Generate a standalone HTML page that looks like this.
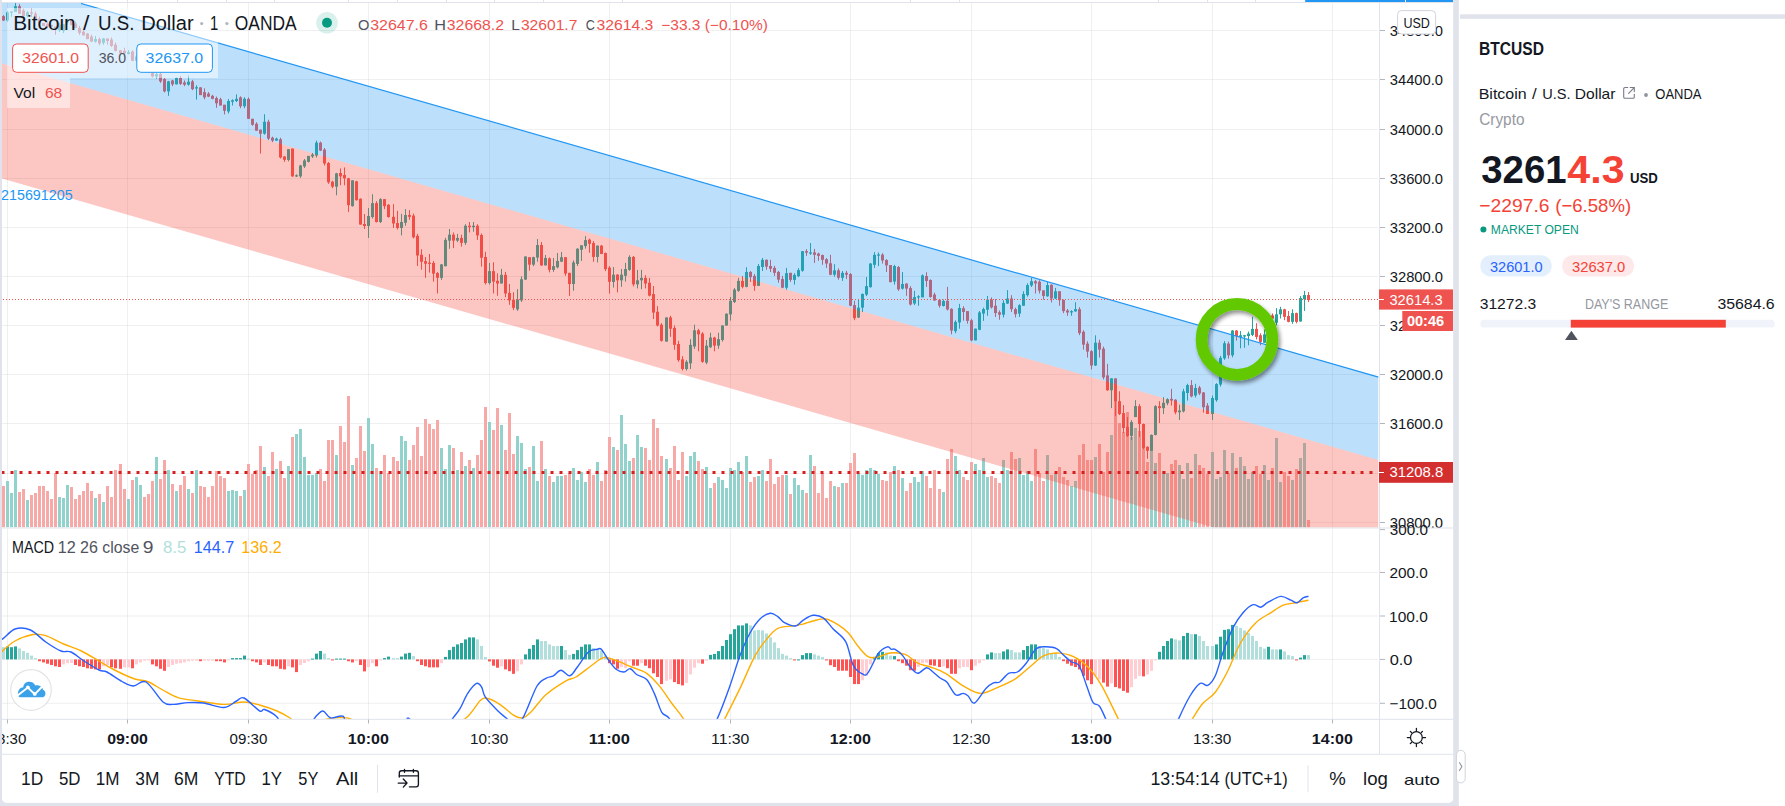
<!DOCTYPE html>
<html><head><meta charset="utf-8"><title>BTCUSD chart</title>
<style>
html,body{margin:0;padding:0;background:#ffffff;overflow:hidden;}
svg{display:block;}
text{font-family:"Liberation Sans", sans-serif;}
</style></head>
<body>
<svg width="1785" height="806" viewBox="0 0 1785 806">
<rect x="0" y="0" width="1785" height="806" fill="#ffffff"/>
<defs><clipPath id="cp"><rect x="2" y="3" width="1376.5" height="524.5"/></clipPath><clipPath id="cm"><rect x="2" y="528.5" width="1376.5" height="190.5"/></clipPath><filter id="sh" x="-30%" y="-30%" width="160%" height="160%"><feGaussianBlur in="SourceAlpha" stdDeviation="2"/><feOffset dx="2" dy="3"/><feComponentTransfer><feFuncA type="linear" slope="0.45"/></feComponentTransfer><feMerge><feMergeNode/><feMergeNode in="SourceGraphic"/></feMerge></filter></defs>
<g clip-path="url(#cp)">
<rect x="7" y="0" width="1" height="527.5" fill="rgba(42,46,57,0.07)"/>
<rect x="127" y="0" width="1" height="527.5" fill="rgba(42,46,57,0.07)"/>
<rect x="248" y="0" width="1" height="527.5" fill="rgba(42,46,57,0.07)"/>
<rect x="368" y="0" width="1" height="527.5" fill="rgba(42,46,57,0.07)"/>
<rect x="489" y="0" width="1" height="527.5" fill="rgba(42,46,57,0.07)"/>
<rect x="609" y="0" width="1" height="527.5" fill="rgba(42,46,57,0.07)"/>
<rect x="730" y="0" width="1" height="527.5" fill="rgba(42,46,57,0.07)"/>
<rect x="850" y="0" width="1" height="527.5" fill="rgba(42,46,57,0.07)"/>
<rect x="971" y="0" width="1" height="527.5" fill="rgba(42,46,57,0.07)"/>
<rect x="1091" y="0" width="1" height="527.5" fill="rgba(42,46,57,0.07)"/>
<rect x="1212" y="0" width="1" height="527.5" fill="rgba(42,46,57,0.07)"/>
<rect x="1332" y="0" width="1" height="527.5" fill="rgba(42,46,57,0.07)"/>
<rect x="0" y="30" width="1378.5" height="1" fill="rgba(42,46,57,0.07)"/>
<rect x="0" y="79" width="1378.5" height="1" fill="rgba(42,46,57,0.07)"/>
<rect x="0" y="129" width="1378.5" height="1" fill="rgba(42,46,57,0.07)"/>
<rect x="0" y="178" width="1378.5" height="1" fill="rgba(42,46,57,0.07)"/>
<rect x="0" y="227" width="1378.5" height="1" fill="rgba(42,46,57,0.07)"/>
<rect x="0" y="276" width="1378.5" height="1" fill="rgba(42,46,57,0.07)"/>
<rect x="0" y="325" width="1378.5" height="1" fill="rgba(42,46,57,0.07)"/>
<rect x="0" y="374" width="1378.5" height="1" fill="rgba(42,46,57,0.07)"/>
<rect x="0" y="423" width="1378.5" height="1" fill="rgba(42,46,57,0.07)"/>
<rect x="0" y="473" width="1378.5" height="1" fill="rgba(42,46,57,0.07)"/>
<rect x="0" y="522" width="1378.5" height="1" fill="rgba(42,46,57,0.07)"/>
<rect x="2" y="486" width="3" height="41.5" fill="#f7a9a7"/>
<rect x="6" y="481" width="3" height="46.5" fill="#92d2cc"/>
<rect x="10" y="493" width="3" height="34.5" fill="#92d2cc"/>
<rect x="14" y="470" width="3" height="57.5" fill="#92d2cc"/>
<rect x="18" y="492" width="3" height="35.5" fill="#f7a9a7"/>
<rect x="22" y="489" width="3" height="38.5" fill="#f7a9a7"/>
<rect x="26" y="500" width="3" height="27.5" fill="#92d2cc"/>
<rect x="30" y="495" width="3" height="32.5" fill="#f7a9a7"/>
<rect x="34" y="493" width="3" height="34.5" fill="#f7a9a7"/>
<rect x="38" y="486" width="3" height="41.5" fill="#f7a9a7"/>
<rect x="42" y="486" width="3" height="41.5" fill="#f7a9a7"/>
<rect x="46" y="491" width="3" height="36.5" fill="#f7a9a7"/>
<rect x="50" y="499" width="3" height="28.5" fill="#f7a9a7"/>
<rect x="54" y="473" width="3" height="54.5" fill="#f7a9a7"/>
<rect x="58" y="497" width="3" height="30.5" fill="#92d2cc"/>
<rect x="62" y="498" width="3" height="29.5" fill="#92d2cc"/>
<rect x="66" y="485" width="3" height="42.5" fill="#92d2cc"/>
<rect x="70" y="487" width="3" height="40.5" fill="#f7a9a7"/>
<rect x="74" y="499" width="3" height="28.5" fill="#f7a9a7"/>
<rect x="78" y="495" width="3" height="32.5" fill="#f7a9a7"/>
<rect x="82" y="491" width="3" height="36.5" fill="#f7a9a7"/>
<rect x="86" y="483" width="3" height="44.5" fill="#f7a9a7"/>
<rect x="90" y="491" width="3" height="36.5" fill="#f7a9a7"/>
<rect x="94" y="498" width="3" height="29.5" fill="#92d2cc"/>
<rect x="98" y="494" width="3" height="33.5" fill="#f7a9a7"/>
<rect x="102" y="502" width="3" height="25.5" fill="#92d2cc"/>
<rect x="106" y="486" width="3" height="41.5" fill="#f7a9a7"/>
<rect x="110" y="497" width="3" height="30.5" fill="#f7a9a7"/>
<rect x="114" y="470" width="3" height="57.5" fill="#f7a9a7"/>
<rect x="119" y="464" width="3" height="63.5" fill="#f7a9a7"/>
<rect x="123" y="489" width="3" height="38.5" fill="#f7a9a7"/>
<rect x="127" y="499" width="3" height="28.5" fill="#92d2cc"/>
<rect x="131" y="480" width="3" height="47.5" fill="#f7a9a7"/>
<rect x="135" y="477" width="3" height="50.5" fill="#92d2cc"/>
<rect x="139" y="485" width="3" height="42.5" fill="#92d2cc"/>
<rect x="143" y="497" width="3" height="30.5" fill="#f7a9a7"/>
<rect x="147" y="494" width="3" height="33.5" fill="#f7a9a7"/>
<rect x="151" y="481" width="3" height="46.5" fill="#f7a9a7"/>
<rect x="155" y="457" width="3" height="70.5" fill="#92d2cc"/>
<rect x="159" y="479" width="3" height="48.5" fill="#f7a9a7"/>
<rect x="163" y="460" width="3" height="67.5" fill="#f7a9a7"/>
<rect x="167" y="470" width="3" height="57.5" fill="#92d2cc"/>
<rect x="171" y="484" width="3" height="43.5" fill="#f7a9a7"/>
<rect x="175" y="491" width="3" height="36.5" fill="#92d2cc"/>
<rect x="179" y="485" width="3" height="42.5" fill="#f7a9a7"/>
<rect x="183" y="476" width="3" height="51.5" fill="#f7a9a7"/>
<rect x="187" y="489" width="3" height="38.5" fill="#92d2cc"/>
<rect x="191" y="493" width="3" height="34.5" fill="#f7a9a7"/>
<rect x="195" y="470" width="3" height="57.5" fill="#92d2cc"/>
<rect x="199" y="486" width="3" height="41.5" fill="#f7a9a7"/>
<rect x="203" y="487" width="3" height="40.5" fill="#f7a9a7"/>
<rect x="207" y="497" width="3" height="30.5" fill="#f7a9a7"/>
<rect x="211" y="486" width="3" height="41.5" fill="#f7a9a7"/>
<rect x="215" y="471" width="3" height="56.5" fill="#f7a9a7"/>
<rect x="219" y="476" width="3" height="51.5" fill="#f7a9a7"/>
<rect x="223" y="478" width="3" height="49.5" fill="#f7a9a7"/>
<rect x="227" y="491" width="3" height="36.5" fill="#92d2cc"/>
<rect x="231" y="490" width="3" height="37.5" fill="#92d2cc"/>
<rect x="235" y="491" width="3" height="36.5" fill="#92d2cc"/>
<rect x="239" y="496" width="3" height="31.5" fill="#f7a9a7"/>
<rect x="243" y="490" width="3" height="37.5" fill="#92d2cc"/>
<rect x="247" y="464" width="3" height="63.5" fill="#f7a9a7"/>
<rect x="251" y="474" width="3" height="53.5" fill="#f7a9a7"/>
<rect x="255" y="470" width="3" height="57.5" fill="#f7a9a7"/>
<rect x="259" y="446" width="3" height="81.5" fill="#f7a9a7"/>
<rect x="263" y="467" width="3" height="60.5" fill="#92d2cc"/>
<rect x="267" y="476" width="3" height="51.5" fill="#f7a9a7"/>
<rect x="271" y="452" width="3" height="75.5" fill="#f7a9a7"/>
<rect x="275" y="469" width="3" height="58.5" fill="#92d2cc"/>
<rect x="279" y="461" width="3" height="66.5" fill="#f7a9a7"/>
<rect x="283" y="478" width="3" height="49.5" fill="#f7a9a7"/>
<rect x="287" y="466" width="3" height="61.5" fill="#92d2cc"/>
<rect x="291" y="437" width="3" height="90.5" fill="#f7a9a7"/>
<rect x="295" y="434" width="3" height="93.5" fill="#92d2cc"/>
<rect x="299" y="429" width="3" height="98.5" fill="#92d2cc"/>
<rect x="303" y="457" width="3" height="70.5" fill="#92d2cc"/>
<rect x="307" y="475" width="3" height="52.5" fill="#92d2cc"/>
<rect x="311" y="475" width="3" height="52.5" fill="#92d2cc"/>
<rect x="315" y="473" width="3" height="54.5" fill="#92d2cc"/>
<rect x="319" y="469" width="3" height="58.5" fill="#f7a9a7"/>
<rect x="323" y="481" width="3" height="46.5" fill="#f7a9a7"/>
<rect x="327" y="440" width="3" height="87.5" fill="#f7a9a7"/>
<rect x="331" y="440" width="3" height="87.5" fill="#f7a9a7"/>
<rect x="335" y="455" width="3" height="72.5" fill="#92d2cc"/>
<rect x="339" y="426" width="3" height="101.5" fill="#f7a9a7"/>
<rect x="343" y="442" width="3" height="85.5" fill="#f7a9a7"/>
<rect x="347" y="396" width="3" height="131.5" fill="#f7a9a7"/>
<rect x="351" y="465" width="3" height="62.5" fill="#92d2cc"/>
<rect x="355" y="458" width="3" height="69.5" fill="#f7a9a7"/>
<rect x="359" y="426" width="3" height="101.5" fill="#f7a9a7"/>
<rect x="363" y="451" width="3" height="76.5" fill="#f7a9a7"/>
<rect x="367" y="418" width="3" height="109.5" fill="#92d2cc"/>
<rect x="371" y="444" width="3" height="83.5" fill="#92d2cc"/>
<rect x="375" y="468" width="3" height="59.5" fill="#f7a9a7"/>
<rect x="379" y="474" width="3" height="53.5" fill="#92d2cc"/>
<rect x="383" y="455" width="3" height="72.5" fill="#f7a9a7"/>
<rect x="387" y="473" width="3" height="54.5" fill="#f7a9a7"/>
<rect x="392" y="457" width="3" height="70.5" fill="#f7a9a7"/>
<rect x="396" y="461" width="3" height="66.5" fill="#f7a9a7"/>
<rect x="400" y="436" width="3" height="91.5" fill="#92d2cc"/>
<rect x="404" y="441" width="3" height="86.5" fill="#92d2cc"/>
<rect x="408" y="460" width="3" height="67.5" fill="#f7a9a7"/>
<rect x="412" y="445" width="3" height="82.5" fill="#f7a9a7"/>
<rect x="416" y="427" width="3" height="100.5" fill="#f7a9a7"/>
<rect x="420" y="456" width="3" height="71.5" fill="#f7a9a7"/>
<rect x="424" y="419" width="3" height="108.5" fill="#f7a9a7"/>
<rect x="428" y="424" width="3" height="103.5" fill="#f7a9a7"/>
<rect x="432" y="429" width="3" height="98.5" fill="#f7a9a7"/>
<rect x="436" y="420" width="3" height="107.5" fill="#f7a9a7"/>
<rect x="440" y="448" width="3" height="79.5" fill="#92d2cc"/>
<rect x="444" y="469" width="3" height="58.5" fill="#92d2cc"/>
<rect x="448" y="445" width="3" height="82.5" fill="#92d2cc"/>
<rect x="452" y="448" width="3" height="79.5" fill="#f7a9a7"/>
<rect x="456" y="470" width="3" height="57.5" fill="#92d2cc"/>
<rect x="460" y="452" width="3" height="75.5" fill="#f7a9a7"/>
<rect x="464" y="466" width="3" height="61.5" fill="#92d2cc"/>
<rect x="468" y="460" width="3" height="67.5" fill="#f7a9a7"/>
<rect x="472" y="468" width="3" height="59.5" fill="#92d2cc"/>
<rect x="476" y="455" width="3" height="72.5" fill="#f7a9a7"/>
<rect x="480" y="440" width="3" height="87.5" fill="#f7a9a7"/>
<rect x="484" y="407" width="3" height="120.5" fill="#f7a9a7"/>
<rect x="488" y="422" width="3" height="105.5" fill="#92d2cc"/>
<rect x="492" y="430" width="3" height="97.5" fill="#f7a9a7"/>
<rect x="496" y="408" width="3" height="119.5" fill="#f7a9a7"/>
<rect x="500" y="425" width="3" height="102.5" fill="#92d2cc"/>
<rect x="504" y="450" width="3" height="77.5" fill="#f7a9a7"/>
<rect x="508" y="413" width="3" height="114.5" fill="#f7a9a7"/>
<rect x="512" y="454" width="3" height="73.5" fill="#f7a9a7"/>
<rect x="516" y="436" width="3" height="91.5" fill="#92d2cc"/>
<rect x="520" y="443" width="3" height="84.5" fill="#92d2cc"/>
<rect x="524" y="469" width="3" height="58.5" fill="#92d2cc"/>
<rect x="528" y="467" width="3" height="60.5" fill="#f7a9a7"/>
<rect x="532" y="446" width="3" height="81.5" fill="#92d2cc"/>
<rect x="536" y="481" width="3" height="46.5" fill="#92d2cc"/>
<rect x="540" y="441" width="3" height="86.5" fill="#f7a9a7"/>
<rect x="544" y="469" width="3" height="58.5" fill="#92d2cc"/>
<rect x="548" y="476" width="3" height="51.5" fill="#f7a9a7"/>
<rect x="552" y="482" width="3" height="45.5" fill="#92d2cc"/>
<rect x="556" y="476" width="3" height="51.5" fill="#92d2cc"/>
<rect x="560" y="476" width="3" height="51.5" fill="#92d2cc"/>
<rect x="564" y="475" width="3" height="52.5" fill="#f7a9a7"/>
<rect x="568" y="473" width="3" height="54.5" fill="#f7a9a7"/>
<rect x="572" y="468" width="3" height="59.5" fill="#92d2cc"/>
<rect x="576" y="480" width="3" height="47.5" fill="#92d2cc"/>
<rect x="580" y="472" width="3" height="55.5" fill="#92d2cc"/>
<rect x="584" y="482" width="3" height="45.5" fill="#92d2cc"/>
<rect x="588" y="469" width="3" height="58.5" fill="#f7a9a7"/>
<rect x="592" y="475" width="3" height="52.5" fill="#f7a9a7"/>
<rect x="596" y="462" width="3" height="65.5" fill="#92d2cc"/>
<rect x="600" y="481" width="3" height="46.5" fill="#f7a9a7"/>
<rect x="604" y="470" width="3" height="57.5" fill="#f7a9a7"/>
<rect x="608" y="437" width="3" height="90.5" fill="#f7a9a7"/>
<rect x="612" y="447" width="3" height="80.5" fill="#92d2cc"/>
<rect x="616" y="450" width="3" height="77.5" fill="#f7a9a7"/>
<rect x="620" y="415" width="3" height="112.5" fill="#92d2cc"/>
<rect x="624" y="444" width="3" height="83.5" fill="#92d2cc"/>
<rect x="628" y="461" width="3" height="66.5" fill="#92d2cc"/>
<rect x="632" y="458" width="3" height="69.5" fill="#f7a9a7"/>
<rect x="636" y="435" width="3" height="92.5" fill="#92d2cc"/>
<rect x="640" y="447" width="3" height="80.5" fill="#92d2cc"/>
<rect x="644" y="448" width="3" height="79.5" fill="#f7a9a7"/>
<rect x="648" y="460" width="3" height="67.5" fill="#f7a9a7"/>
<rect x="652" y="419" width="3" height="108.5" fill="#f7a9a7"/>
<rect x="656" y="428" width="3" height="99.5" fill="#f7a9a7"/>
<rect x="660" y="456" width="3" height="71.5" fill="#f7a9a7"/>
<rect x="665" y="459" width="3" height="68.5" fill="#92d2cc"/>
<rect x="669" y="468" width="3" height="59.5" fill="#f7a9a7"/>
<rect x="673" y="446" width="3" height="81.5" fill="#f7a9a7"/>
<rect x="677" y="480" width="3" height="47.5" fill="#f7a9a7"/>
<rect x="681" y="452" width="3" height="75.5" fill="#f7a9a7"/>
<rect x="685" y="476" width="3" height="51.5" fill="#92d2cc"/>
<rect x="689" y="456" width="3" height="71.5" fill="#92d2cc"/>
<rect x="693" y="452" width="3" height="75.5" fill="#92d2cc"/>
<rect x="697" y="461" width="3" height="66.5" fill="#f7a9a7"/>
<rect x="701" y="469" width="3" height="58.5" fill="#f7a9a7"/>
<rect x="705" y="467" width="3" height="60.5" fill="#92d2cc"/>
<rect x="709" y="488" width="3" height="39.5" fill="#92d2cc"/>
<rect x="713" y="483" width="3" height="44.5" fill="#f7a9a7"/>
<rect x="717" y="477" width="3" height="50.5" fill="#92d2cc"/>
<rect x="721" y="480" width="3" height="47.5" fill="#92d2cc"/>
<rect x="725" y="488" width="3" height="39.5" fill="#92d2cc"/>
<rect x="729" y="468" width="3" height="59.5" fill="#92d2cc"/>
<rect x="733" y="470" width="3" height="57.5" fill="#92d2cc"/>
<rect x="737" y="462" width="3" height="65.5" fill="#92d2cc"/>
<rect x="741" y="472" width="3" height="55.5" fill="#f7a9a7"/>
<rect x="745" y="456" width="3" height="71.5" fill="#92d2cc"/>
<rect x="749" y="482" width="3" height="45.5" fill="#f7a9a7"/>
<rect x="753" y="477" width="3" height="50.5" fill="#f7a9a7"/>
<rect x="757" y="476" width="3" height="51.5" fill="#92d2cc"/>
<rect x="761" y="470" width="3" height="57.5" fill="#92d2cc"/>
<rect x="765" y="481" width="3" height="46.5" fill="#f7a9a7"/>
<rect x="769" y="459" width="3" height="68.5" fill="#f7a9a7"/>
<rect x="773" y="484" width="3" height="43.5" fill="#f7a9a7"/>
<rect x="777" y="477" width="3" height="50.5" fill="#f7a9a7"/>
<rect x="781" y="475" width="3" height="52.5" fill="#f7a9a7"/>
<rect x="785" y="475" width="3" height="52.5" fill="#92d2cc"/>
<rect x="789" y="494" width="3" height="33.5" fill="#f7a9a7"/>
<rect x="793" y="478" width="3" height="49.5" fill="#92d2cc"/>
<rect x="797" y="485" width="3" height="42.5" fill="#92d2cc"/>
<rect x="801" y="490" width="3" height="37.5" fill="#92d2cc"/>
<rect x="805" y="493" width="3" height="34.5" fill="#f7a9a7"/>
<rect x="809" y="455" width="3" height="72.5" fill="#92d2cc"/>
<rect x="813" y="466" width="3" height="61.5" fill="#f7a9a7"/>
<rect x="817" y="493" width="3" height="34.5" fill="#f7a9a7"/>
<rect x="821" y="473" width="3" height="54.5" fill="#f7a9a7"/>
<rect x="825" y="498" width="3" height="29.5" fill="#f7a9a7"/>
<rect x="829" y="481" width="3" height="46.5" fill="#f7a9a7"/>
<rect x="833" y="486" width="3" height="41.5" fill="#92d2cc"/>
<rect x="837" y="487" width="3" height="40.5" fill="#f7a9a7"/>
<rect x="841" y="483" width="3" height="44.5" fill="#92d2cc"/>
<rect x="845" y="483" width="3" height="44.5" fill="#f7a9a7"/>
<rect x="849" y="463" width="3" height="64.5" fill="#f7a9a7"/>
<rect x="853" y="453" width="3" height="74.5" fill="#f7a9a7"/>
<rect x="857" y="473" width="3" height="54.5" fill="#92d2cc"/>
<rect x="861" y="475" width="3" height="52.5" fill="#92d2cc"/>
<rect x="865" y="470" width="3" height="57.5" fill="#92d2cc"/>
<rect x="869" y="468" width="3" height="59.5" fill="#92d2cc"/>
<rect x="873" y="470" width="3" height="57.5" fill="#92d2cc"/>
<rect x="877" y="474" width="3" height="53.5" fill="#92d2cc"/>
<rect x="881" y="480" width="3" height="47.5" fill="#f7a9a7"/>
<rect x="885" y="481" width="3" height="46.5" fill="#f7a9a7"/>
<rect x="889" y="472" width="3" height="55.5" fill="#f7a9a7"/>
<rect x="893" y="466" width="3" height="61.5" fill="#92d2cc"/>
<rect x="897" y="470" width="3" height="57.5" fill="#f7a9a7"/>
<rect x="901" y="478" width="3" height="49.5" fill="#92d2cc"/>
<rect x="905" y="491" width="3" height="36.5" fill="#f7a9a7"/>
<rect x="909" y="483" width="3" height="44.5" fill="#f7a9a7"/>
<rect x="913" y="477" width="3" height="50.5" fill="#92d2cc"/>
<rect x="917" y="482" width="3" height="45.5" fill="#92d2cc"/>
<rect x="921" y="471" width="3" height="56.5" fill="#92d2cc"/>
<rect x="925" y="476" width="3" height="51.5" fill="#f7a9a7"/>
<rect x="929" y="488" width="3" height="39.5" fill="#f7a9a7"/>
<rect x="933" y="470" width="3" height="57.5" fill="#f7a9a7"/>
<rect x="938" y="489" width="3" height="38.5" fill="#f7a9a7"/>
<rect x="942" y="492" width="3" height="35.5" fill="#92d2cc"/>
<rect x="946" y="459" width="3" height="68.5" fill="#f7a9a7"/>
<rect x="950" y="449" width="3" height="78.5" fill="#f7a9a7"/>
<rect x="954" y="456" width="3" height="71.5" fill="#92d2cc"/>
<rect x="958" y="470" width="3" height="57.5" fill="#92d2cc"/>
<rect x="962" y="477" width="3" height="50.5" fill="#f7a9a7"/>
<rect x="966" y="480" width="3" height="47.5" fill="#f7a9a7"/>
<rect x="970" y="462" width="3" height="65.5" fill="#f7a9a7"/>
<rect x="974" y="464" width="3" height="63.5" fill="#92d2cc"/>
<rect x="978" y="470" width="3" height="57.5" fill="#92d2cc"/>
<rect x="982" y="458" width="3" height="69.5" fill="#92d2cc"/>
<rect x="986" y="477" width="3" height="50.5" fill="#92d2cc"/>
<rect x="990" y="476" width="3" height="51.5" fill="#f7a9a7"/>
<rect x="994" y="478" width="3" height="49.5" fill="#f7a9a7"/>
<rect x="998" y="483" width="3" height="44.5" fill="#f7a9a7"/>
<rect x="1002" y="460" width="3" height="67.5" fill="#92d2cc"/>
<rect x="1006" y="470" width="3" height="57.5" fill="#92d2cc"/>
<rect x="1010" y="452" width="3" height="75.5" fill="#f7a9a7"/>
<rect x="1014" y="459" width="3" height="68.5" fill="#f7a9a7"/>
<rect x="1018" y="458" width="3" height="69.5" fill="#92d2cc"/>
<rect x="1022" y="475" width="3" height="52.5" fill="#92d2cc"/>
<rect x="1026" y="471" width="3" height="56.5" fill="#92d2cc"/>
<rect x="1030" y="481" width="3" height="46.5" fill="#92d2cc"/>
<rect x="1034" y="449" width="3" height="78.5" fill="#f7a9a7"/>
<rect x="1038" y="473" width="3" height="54.5" fill="#f7a9a7"/>
<rect x="1042" y="481" width="3" height="46.5" fill="#f7a9a7"/>
<rect x="1046" y="455" width="3" height="72.5" fill="#92d2cc"/>
<rect x="1050" y="475" width="3" height="52.5" fill="#f7a9a7"/>
<rect x="1054" y="474" width="3" height="53.5" fill="#92d2cc"/>
<rect x="1058" y="467" width="3" height="60.5" fill="#f7a9a7"/>
<rect x="1062" y="477" width="3" height="50.5" fill="#f7a9a7"/>
<rect x="1066" y="480" width="3" height="47.5" fill="#f7a9a7"/>
<rect x="1070" y="486" width="3" height="41.5" fill="#92d2cc"/>
<rect x="1074" y="481" width="3" height="46.5" fill="#92d2cc"/>
<rect x="1078" y="455" width="3" height="72.5" fill="#f7a9a7"/>
<rect x="1082" y="444" width="3" height="83.5" fill="#f7a9a7"/>
<rect x="1086" y="460" width="3" height="67.5" fill="#f7a9a7"/>
<rect x="1090" y="460" width="3" height="67.5" fill="#f7a9a7"/>
<rect x="1094" y="457" width="3" height="70.5" fill="#92d2cc"/>
<rect x="1098" y="444" width="3" height="83.5" fill="#f7a9a7"/>
<rect x="1102" y="472" width="3" height="55.5" fill="#f7a9a7"/>
<rect x="1106" y="452" width="3" height="75.5" fill="#f7a9a7"/>
<rect x="1110" y="435" width="3" height="92.5" fill="#92d2cc"/>
<rect x="1114" y="398" width="3" height="129.5" fill="#f7a9a7"/>
<rect x="1118" y="423" width="3" height="104.5" fill="#f7a9a7"/>
<rect x="1122" y="432" width="3" height="95.5" fill="#f7a9a7"/>
<rect x="1126" y="412" width="3" height="115.5" fill="#f7a9a7"/>
<rect x="1130" y="437" width="3" height="90.5" fill="#92d2cc"/>
<rect x="1134" y="428" width="3" height="99.5" fill="#92d2cc"/>
<rect x="1138" y="431" width="3" height="96.5" fill="#f7a9a7"/>
<rect x="1142" y="444" width="3" height="83.5" fill="#f7a9a7"/>
<rect x="1146" y="462" width="3" height="65.5" fill="#f7a9a7"/>
<rect x="1150" y="435" width="3" height="92.5" fill="#92d2cc"/>
<rect x="1154" y="463" width="3" height="64.5" fill="#92d2cc"/>
<rect x="1158" y="453" width="3" height="74.5" fill="#f7a9a7"/>
<rect x="1162" y="471" width="3" height="56.5" fill="#92d2cc"/>
<rect x="1166" y="473" width="3" height="54.5" fill="#92d2cc"/>
<rect x="1170" y="464" width="3" height="63.5" fill="#f7a9a7"/>
<rect x="1174" y="460" width="3" height="67.5" fill="#f7a9a7"/>
<rect x="1178" y="465" width="3" height="62.5" fill="#92d2cc"/>
<rect x="1182" y="479" width="3" height="48.5" fill="#92d2cc"/>
<rect x="1186" y="463" width="3" height="64.5" fill="#92d2cc"/>
<rect x="1190" y="478" width="3" height="49.5" fill="#f7a9a7"/>
<rect x="1194" y="454" width="3" height="73.5" fill="#92d2cc"/>
<rect x="1198" y="465" width="3" height="62.5" fill="#f7a9a7"/>
<rect x="1202" y="468" width="3" height="59.5" fill="#f7a9a7"/>
<rect x="1206" y="474" width="3" height="53.5" fill="#f7a9a7"/>
<rect x="1211" y="452" width="3" height="75.5" fill="#92d2cc"/>
<rect x="1215" y="479" width="3" height="48.5" fill="#92d2cc"/>
<rect x="1219" y="477" width="3" height="50.5" fill="#92d2cc"/>
<rect x="1223" y="450" width="3" height="77.5" fill="#92d2cc"/>
<rect x="1227" y="473" width="3" height="54.5" fill="#f7a9a7"/>
<rect x="1231" y="453" width="3" height="74.5" fill="#92d2cc"/>
<rect x="1235" y="468" width="3" height="59.5" fill="#f7a9a7"/>
<rect x="1239" y="457" width="3" height="70.5" fill="#92d2cc"/>
<rect x="1243" y="466" width="3" height="61.5" fill="#92d2cc"/>
<rect x="1247" y="479" width="3" height="48.5" fill="#92d2cc"/>
<rect x="1251" y="472" width="3" height="55.5" fill="#92d2cc"/>
<rect x="1255" y="466" width="3" height="61.5" fill="#f7a9a7"/>
<rect x="1259" y="474" width="3" height="53.5" fill="#f7a9a7"/>
<rect x="1263" y="465" width="3" height="62.5" fill="#92d2cc"/>
<rect x="1267" y="480" width="3" height="47.5" fill="#92d2cc"/>
<rect x="1271" y="468" width="3" height="59.5" fill="#f7a9a7"/>
<rect x="1275" y="438" width="3" height="89.5" fill="#92d2cc"/>
<rect x="1279" y="482" width="3" height="45.5" fill="#92d2cc"/>
<rect x="1283" y="472" width="3" height="55.5" fill="#f7a9a7"/>
<rect x="1287" y="476" width="3" height="51.5" fill="#f7a9a7"/>
<rect x="1291" y="480" width="3" height="47.5" fill="#92d2cc"/>
<rect x="1295" y="469" width="3" height="58.5" fill="#f7a9a7"/>
<rect x="1299" y="458" width="3" height="69.5" fill="#92d2cc"/>
<rect x="1303" y="443" width="3" height="84.5" fill="#92d2cc"/>
<rect x="1307" y="520" width="3" height="7.5" fill="#f7a9a7"/>
<rect x="3" y="15.14" width="1" height="5.84" fill="#ef5350"/>
<rect x="2" y="16.14" width="3" height="4.34" fill="#ef5350"/>
<rect x="7" y="11.17" width="1" height="10.81" fill="#26a69a"/>
<rect x="6" y="12.41" width="3" height="8.07" fill="#26a69a"/>
<rect x="11" y="11.5" width="1" height="5.25" fill="#26a69a"/>
<rect x="10" y="11.5" width="3" height="1.2" fill="#26a69a"/>
<rect x="15" y="3.1" width="1" height="8.69" fill="#26a69a"/>
<rect x="14" y="6.21" width="3" height="5.59" fill="#26a69a"/>
<rect x="19" y="4.21" width="1" height="9.45" fill="#ef5350"/>
<rect x="18" y="6.21" width="3" height="7.45" fill="#ef5350"/>
<rect x="23" y="8.69" width="1" height="8.45" fill="#ef5350"/>
<rect x="22" y="10.55" width="3" height="5.59" fill="#ef5350"/>
<rect x="27" y="11.17" width="1" height="6.21" fill="#26a69a"/>
<rect x="26" y="12.41" width="3" height="3.72" fill="#26a69a"/>
<rect x="31" y="8.07" width="1" height="8.69" fill="#ef5350"/>
<rect x="30" y="12.41" width="3" height="1.24" fill="#ef5350"/>
<rect x="35" y="11.65" width="1" height="8.21" fill="#ef5350"/>
<rect x="34" y="13.65" width="3" height="6.21" fill="#ef5350"/>
<rect x="39" y="16.62" width="1" height="6.84" fill="#ef5350"/>
<rect x="38" y="18.62" width="3" height="4.34" fill="#ef5350"/>
<rect x="43" y="22.96" width="1" height="3.1" fill="#ef5350"/>
<rect x="42" y="22.96" width="3" height="3.1" fill="#ef5350"/>
<rect x="47" y="22.7" width="1" height="5.48" fill="#ef5350"/>
<rect x="46" y="24.2" width="3" height="2.48" fill="#ef5350"/>
<rect x="51" y="24.82" width="1" height="2.36" fill="#ef5350"/>
<rect x="50" y="24.82" width="3" height="1.86" fill="#ef5350"/>
<rect x="55" y="26.68" width="1" height="8.07" fill="#ef5350"/>
<rect x="54" y="26.68" width="3" height="2.48" fill="#ef5350"/>
<rect x="59" y="22.82" width="1" height="9.09" fill="#26a69a"/>
<rect x="58" y="24.82" width="3" height="5.59" fill="#26a69a"/>
<rect x="63" y="24.2" width="1" height="8.83" fill="#26a69a"/>
<rect x="62" y="24.2" width="3" height="6.83" fill="#26a69a"/>
<rect x="67" y="18.62" width="1" height="6.21" fill="#26a69a"/>
<rect x="66" y="19.86" width="3" height="2.48" fill="#26a69a"/>
<rect x="71" y="19.86" width="1" height="5.46" fill="#ef5350"/>
<rect x="70" y="19.86" width="3" height="4.96" fill="#ef5350"/>
<rect x="75" y="21.58" width="1" height="6.34" fill="#ef5350"/>
<rect x="74" y="23.58" width="3" height="4.34" fill="#ef5350"/>
<rect x="79" y="25.93" width="1" height="8.96" fill="#ef5350"/>
<rect x="78" y="27.93" width="3" height="4.96" fill="#ef5350"/>
<rect x="83" y="30.15" width="1" height="5.22" fill="#ef5350"/>
<rect x="82" y="31.65" width="3" height="3.72" fill="#ef5350"/>
<rect x="87" y="33.01" width="1" height="6.09" fill="#ef5350"/>
<rect x="86" y="33.51" width="3" height="5.59" fill="#ef5350"/>
<rect x="91" y="34.61" width="1" height="7.46" fill="#ef5350"/>
<rect x="90" y="36.61" width="3" height="4.96" fill="#ef5350"/>
<rect x="95" y="35.99" width="1" height="6.59" fill="#26a69a"/>
<rect x="94" y="39.1" width="3" height="2.48" fill="#26a69a"/>
<rect x="99" y="37.6" width="1" height="7.71" fill="#ef5350"/>
<rect x="98" y="39.1" width="3" height="4.34" fill="#ef5350"/>
<rect x="103" y="37.98" width="1" height="6.84" fill="#26a69a"/>
<rect x="102" y="38.48" width="3" height="4.34" fill="#26a69a"/>
<rect x="107" y="38.48" width="1" height="6.21" fill="#ef5350"/>
<rect x="106" y="38.48" width="3" height="2.48" fill="#ef5350"/>
<rect x="111" y="37.47" width="1" height="9.45" fill="#ef5350"/>
<rect x="110" y="39.47" width="3" height="6.45" fill="#ef5350"/>
<rect x="115" y="42.68" width="1" height="8.71" fill="#ef5350"/>
<rect x="114" y="44.68" width="3" height="6.21" fill="#ef5350"/>
<rect x="120" y="50.27" width="1" height="5.1" fill="#ef5350"/>
<rect x="119" y="50.27" width="3" height="3.1" fill="#ef5350"/>
<rect x="124" y="47.78" width="1" height="9.31" fill="#ef5350"/>
<rect x="123" y="50.89" width="3" height="2.48" fill="#ef5350"/>
<rect x="128" y="50.13" width="1" height="4.36" fill="#26a69a"/>
<rect x="127" y="52.13" width="3" height="1.86" fill="#26a69a"/>
<rect x="132" y="50.51" width="1" height="10.31" fill="#ef5350"/>
<rect x="131" y="51.51" width="3" height="9.31" fill="#ef5350"/>
<rect x="136" y="54.47" width="1" height="6.34" fill="#26a69a"/>
<rect x="135" y="56.47" width="3" height="4.34" fill="#26a69a"/>
<rect x="140" y="54.47" width="1" height="8.61" fill="#ef5350"/>
<rect x="139" y="56.47" width="3" height="6.61" fill="#ef5350"/>
<rect x="144" y="61.09" width="1" height="6.51" fill="#ef5350"/>
<rect x="143" y="63.09" width="3" height="4.01" fill="#ef5350"/>
<rect x="148" y="65.6" width="1" height="7.51" fill="#ef5350"/>
<rect x="147" y="67.1" width="3" height="4.01" fill="#ef5350"/>
<rect x="152" y="71.55" width="1" height="5.92" fill="#ef5350"/>
<rect x="151" y="73.05" width="3" height="3.42" fill="#ef5350"/>
<rect x="156" y="72.74" width="1" height="5.97" fill="#26a69a"/>
<rect x="155" y="74.24" width="3" height="2.23" fill="#26a69a"/>
<rect x="160" y="71.94" width="1" height="10.94" fill="#ef5350"/>
<rect x="159" y="73.94" width="3" height="7.44" fill="#ef5350"/>
<rect x="164" y="78.01" width="1" height="14.36" fill="#ef5350"/>
<rect x="163" y="79.01" width="3" height="12.36" fill="#ef5350"/>
<rect x="168" y="80.89" width="1" height="14.94" fill="#26a69a"/>
<rect x="167" y="81.39" width="3" height="9.97" fill="#26a69a"/>
<rect x="172" y="79.99" width="1" height="6.16" fill="#ef5350"/>
<rect x="171" y="80.49" width="3" height="3.87" fill="#ef5350"/>
<rect x="176" y="77.46" width="1" height="6.9" fill="#26a69a"/>
<rect x="175" y="77.96" width="3" height="6.4" fill="#26a69a"/>
<rect x="180" y="75.96" width="1" height="8.96" fill="#ef5350"/>
<rect x="179" y="77.96" width="3" height="5.96" fill="#ef5350"/>
<rect x="184" y="80.43" width="1" height="5.73" fill="#ef5350"/>
<rect x="183" y="82.43" width="3" height="2.23" fill="#ef5350"/>
<rect x="188" y="75.43" width="1" height="10.23" fill="#26a69a"/>
<rect x="187" y="81.69" width="3" height="2.98" fill="#26a69a"/>
<rect x="192" y="79.89" width="1" height="10.24" fill="#ef5350"/>
<rect x="191" y="81.39" width="3" height="7.74" fill="#ef5350"/>
<rect x="196" y="85.26" width="1" height="14.29" fill="#26a69a"/>
<rect x="195" y="87.26" width="3" height="1.2" fill="#26a69a"/>
<rect x="200" y="87.34" width="1" height="7.74" fill="#ef5350"/>
<rect x="199" y="87.34" width="3" height="7.74" fill="#ef5350"/>
<rect x="204" y="88.38" width="1" height="10.93" fill="#ef5350"/>
<rect x="203" y="92.11" width="3" height="5.21" fill="#ef5350"/>
<rect x="208" y="92.1" width="1" height="4.98" fill="#ef5350"/>
<rect x="207" y="93.6" width="3" height="2.98" fill="#ef5350"/>
<rect x="212" y="94.83" width="1" height="4.48" fill="#ef5350"/>
<rect x="211" y="95.83" width="3" height="2.98" fill="#ef5350"/>
<rect x="216" y="96.56" width="1" height="11.18" fill="#ef5350"/>
<rect x="215" y="98.06" width="3" height="5.21" fill="#ef5350"/>
<rect x="220" y="97.75" width="1" height="7.75" fill="#ef5350"/>
<rect x="219" y="99.25" width="3" height="6.25" fill="#ef5350"/>
<rect x="224" y="104.76" width="1" height="9.68" fill="#ef5350"/>
<rect x="223" y="104.76" width="3" height="5.96" fill="#ef5350"/>
<rect x="228" y="99.04" width="1" height="14.42" fill="#26a69a"/>
<rect x="227" y="101.04" width="3" height="10.42" fill="#26a69a"/>
<rect x="232" y="99.29" width="1" height="6.21" fill="#26a69a"/>
<rect x="231" y="100.29" width="3" height="1.49" fill="#26a69a"/>
<rect x="236" y="94.34" width="1" height="7.7" fill="#26a69a"/>
<rect x="235" y="98.81" width="3" height="2.23" fill="#26a69a"/>
<rect x="240" y="96.32" width="1" height="11.93" fill="#ef5350"/>
<rect x="239" y="97.32" width="3" height="8.93" fill="#ef5350"/>
<rect x="244" y="97.31" width="1" height="10.94" fill="#26a69a"/>
<rect x="243" y="98.81" width="3" height="7.44" fill="#26a69a"/>
<rect x="248" y="97.43" width="1" height="21.35" fill="#ef5350"/>
<rect x="247" y="98.93" width="3" height="19.85" fill="#ef5350"/>
<rect x="252" y="118.78" width="1" height="6.96" fill="#ef5350"/>
<rect x="251" y="118.78" width="3" height="5.96" fill="#ef5350"/>
<rect x="256" y="122.25" width="1" height="8.45" fill="#ef5350"/>
<rect x="255" y="123.75" width="3" height="6.95" fill="#ef5350"/>
<rect x="260" y="129.7" width="1" height="23.82" fill="#ef5350"/>
<rect x="259" y="129.7" width="3" height="3.97" fill="#ef5350"/>
<rect x="264" y="114.22" width="1" height="20.45" fill="#26a69a"/>
<rect x="263" y="121.76" width="3" height="11.91" fill="#26a69a"/>
<rect x="268" y="119.76" width="1" height="20.37" fill="#ef5350"/>
<rect x="267" y="121.76" width="3" height="16.87" fill="#ef5350"/>
<rect x="272" y="136.64" width="1" height="5.48" fill="#ef5350"/>
<rect x="271" y="137.64" width="3" height="2.98" fill="#ef5350"/>
<rect x="276" y="137.64" width="1" height="2.99" fill="#26a69a"/>
<rect x="275" y="138.64" width="3" height="1.99" fill="#26a69a"/>
<rect x="280" y="137.73" width="1" height="20.76" fill="#ef5350"/>
<rect x="279" y="139.23" width="3" height="18.26" fill="#ef5350"/>
<rect x="284" y="156" width="1" height="5.87" fill="#ef5350"/>
<rect x="283" y="156.5" width="3" height="3.37" fill="#ef5350"/>
<rect x="288" y="149.16" width="1" height="12.22" fill="#26a69a"/>
<rect x="287" y="149.16" width="3" height="10.72" fill="#26a69a"/>
<rect x="292" y="148.56" width="1" height="28.29" fill="#ef5350"/>
<rect x="291" y="148.56" width="3" height="27.79" fill="#ef5350"/>
<rect x="296" y="174.26" width="1" height="2.7" fill="#26a69a"/>
<rect x="295" y="175.26" width="3" height="1.2" fill="#26a69a"/>
<rect x="300" y="164.93" width="1" height="12.92" fill="#26a69a"/>
<rect x="299" y="165.43" width="3" height="10.92" fill="#26a69a"/>
<rect x="304" y="158.97" width="1" height="8.96" fill="#26a69a"/>
<rect x="303" y="160.47" width="3" height="5.96" fill="#26a69a"/>
<rect x="308" y="155.91" width="1" height="6.46" fill="#26a69a"/>
<rect x="307" y="155.91" width="3" height="5.96" fill="#26a69a"/>
<rect x="312" y="153.02" width="1" height="4.99" fill="#26a69a"/>
<rect x="311" y="154.52" width="3" height="1.99" fill="#26a69a"/>
<rect x="316" y="140.62" width="1" height="16.89" fill="#26a69a"/>
<rect x="315" y="142.61" width="3" height="12.9" fill="#26a69a"/>
<rect x="320" y="141.61" width="1" height="9.44" fill="#ef5350"/>
<rect x="319" y="142.61" width="3" height="7.94" fill="#ef5350"/>
<rect x="324" y="148.05" width="1" height="17.4" fill="#ef5350"/>
<rect x="323" y="149.55" width="3" height="13.9" fill="#ef5350"/>
<rect x="328" y="162.05" width="1" height="21.76" fill="#ef5350"/>
<rect x="327" y="163.05" width="3" height="19.26" fill="#ef5350"/>
<rect x="332" y="180.71" width="1" height="7.46" fill="#ef5350"/>
<rect x="331" y="181.71" width="3" height="4.96" fill="#ef5350"/>
<rect x="336" y="172.87" width="1" height="22.34" fill="#26a69a"/>
<rect x="335" y="173.37" width="3" height="13.3" fill="#26a69a"/>
<rect x="340" y="168.41" width="1" height="16.87" fill="#ef5350"/>
<rect x="339" y="172.98" width="3" height="3.37" fill="#ef5350"/>
<rect x="344" y="167.42" width="1" height="17.87" fill="#ef5350"/>
<rect x="343" y="174.96" width="3" height="3.37" fill="#ef5350"/>
<rect x="348" y="177.84" width="1" height="34.25" fill="#ef5350"/>
<rect x="347" y="178.34" width="3" height="26.8" fill="#ef5350"/>
<rect x="352" y="180.32" width="1" height="26.31" fill="#26a69a"/>
<rect x="351" y="180.32" width="3" height="25.81" fill="#26a69a"/>
<rect x="356" y="180.82" width="1" height="19.86" fill="#ef5350"/>
<rect x="355" y="181.32" width="3" height="18.86" fill="#ef5350"/>
<rect x="360" y="198.28" width="1" height="26.31" fill="#ef5350"/>
<rect x="359" y="198.78" width="3" height="25.81" fill="#ef5350"/>
<rect x="364" y="214.07" width="1" height="14.89" fill="#ef5350"/>
<rect x="363" y="224" width="3" height="1.99" fill="#ef5350"/>
<rect x="368" y="208.11" width="1" height="29.78" fill="#26a69a"/>
<rect x="367" y="216.05" width="3" height="9.93" fill="#26a69a"/>
<rect x="372" y="194.22" width="1" height="24.33" fill="#26a69a"/>
<rect x="371" y="203.15" width="3" height="13.9" fill="#26a69a"/>
<rect x="376" y="201.15" width="1" height="21.36" fill="#ef5350"/>
<rect x="375" y="203.15" width="3" height="18.86" fill="#ef5350"/>
<rect x="380" y="198.18" width="1" height="24.83" fill="#26a69a"/>
<rect x="379" y="199.18" width="3" height="22.83" fill="#26a69a"/>
<rect x="384" y="199.18" width="1" height="9.93" fill="#ef5350"/>
<rect x="383" y="199.18" width="3" height="6.95" fill="#ef5350"/>
<rect x="388" y="204.14" width="1" height="13.4" fill="#ef5350"/>
<rect x="387" y="204.74" width="3" height="12.31" fill="#ef5350"/>
<rect x="393" y="204.14" width="1" height="23.82" fill="#ef5350"/>
<rect x="392" y="216.8" width="3" height="6.7" fill="#ef5350"/>
<rect x="397" y="210.84" width="1" height="18.62" fill="#ef5350"/>
<rect x="396" y="223.05" width="3" height="4.91" fill="#ef5350"/>
<rect x="401" y="213.82" width="1" height="21.59" fill="#26a69a"/>
<rect x="400" y="222.01" width="3" height="5.96" fill="#26a69a"/>
<rect x="405" y="209.06" width="1" height="16.67" fill="#26a69a"/>
<rect x="404" y="215.01" width="3" height="7.74" fill="#26a69a"/>
<rect x="409" y="210.1" width="1" height="9.68" fill="#ef5350"/>
<rect x="408" y="215.01" width="3" height="1.79" fill="#ef5350"/>
<rect x="413" y="213.61" width="1" height="24.74" fill="#ef5350"/>
<rect x="412" y="215.61" width="3" height="21.74" fill="#ef5350"/>
<rect x="417" y="233.85" width="1" height="32.07" fill="#ef5350"/>
<rect x="416" y="235.85" width="3" height="19.65" fill="#ef5350"/>
<rect x="421" y="249.25" width="1" height="20.4" fill="#ef5350"/>
<rect x="420" y="254.76" width="3" height="7" fill="#ef5350"/>
<rect x="425" y="256.99" width="1" height="20.84" fill="#ef5350"/>
<rect x="424" y="261.16" width="3" height="2.53" fill="#ef5350"/>
<rect x="429" y="254.02" width="1" height="18.61" fill="#ef5350"/>
<rect x="428" y="262.72" width="3" height="1.2" fill="#ef5350"/>
<rect x="433" y="260.95" width="1" height="20.61" fill="#ef5350"/>
<rect x="432" y="262.95" width="3" height="10.72" fill="#ef5350"/>
<rect x="437" y="272.07" width="1" height="21.4" fill="#ef5350"/>
<rect x="436" y="273.07" width="3" height="4.76" fill="#ef5350"/>
<rect x="441" y="263.94" width="1" height="15.9" fill="#26a69a"/>
<rect x="440" y="264.44" width="3" height="13.4" fill="#26a69a"/>
<rect x="445" y="237.87" width="1" height="28.35" fill="#26a69a"/>
<rect x="444" y="239.87" width="3" height="26.35" fill="#26a69a"/>
<rect x="449" y="229.01" width="1" height="19.8" fill="#26a69a"/>
<rect x="448" y="234.66" width="3" height="5.96" fill="#26a69a"/>
<rect x="453" y="232.43" width="1" height="15.63" fill="#ef5350"/>
<rect x="452" y="234.66" width="3" height="5.96" fill="#ef5350"/>
<rect x="457" y="233.92" width="1" height="8.19" fill="#26a69a"/>
<rect x="456" y="237.94" width="3" height="2.68" fill="#26a69a"/>
<rect x="461" y="234.66" width="1" height="11.91" fill="#ef5350"/>
<rect x="460" y="237.94" width="3" height="4.91" fill="#ef5350"/>
<rect x="465" y="224.23" width="1" height="20.62" fill="#26a69a"/>
<rect x="464" y="225.73" width="3" height="17.12" fill="#26a69a"/>
<rect x="469" y="222.01" width="1" height="10.42" fill="#ef5350"/>
<rect x="468" y="225.73" width="3" height="1.49" fill="#ef5350"/>
<rect x="473" y="222.01" width="1" height="9.68" fill="#26a69a"/>
<rect x="472" y="225.73" width="3" height="1.49" fill="#26a69a"/>
<rect x="477" y="224.23" width="1" height="15.64" fill="#ef5350"/>
<rect x="476" y="225.73" width="3" height="9.68" fill="#ef5350"/>
<rect x="481" y="233.46" width="1" height="33.21" fill="#ef5350"/>
<rect x="480" y="234.96" width="3" height="22.78" fill="#ef5350"/>
<rect x="485" y="251.78" width="1" height="32.76" fill="#ef5350"/>
<rect x="484" y="256.99" width="3" height="26.05" fill="#ef5350"/>
<rect x="489" y="262.95" width="1" height="21.6" fill="#26a69a"/>
<rect x="488" y="271.14" width="3" height="11.91" fill="#26a69a"/>
<rect x="493" y="262.2" width="1" height="31.26" fill="#ef5350"/>
<rect x="492" y="271.14" width="3" height="10.42" fill="#ef5350"/>
<rect x="497" y="273.37" width="1" height="22.33" fill="#ef5350"/>
<rect x="496" y="280.81" width="3" height="2.68" fill="#ef5350"/>
<rect x="501" y="268.9" width="1" height="14.59" fill="#26a69a"/>
<rect x="500" y="274.86" width="3" height="8.63" fill="#26a69a"/>
<rect x="505" y="271.88" width="1" height="25.31" fill="#ef5350"/>
<rect x="504" y="274.86" width="3" height="18.61" fill="#ef5350"/>
<rect x="509" y="284.02" width="1" height="20.84" fill="#ef5350"/>
<rect x="508" y="292.95" width="3" height="7.44" fill="#ef5350"/>
<rect x="513" y="292.2" width="1" height="17.87" fill="#ef5350"/>
<rect x="512" y="299.65" width="3" height="8.19" fill="#ef5350"/>
<rect x="517" y="289.23" width="1" height="21.6" fill="#26a69a"/>
<rect x="516" y="299.65" width="3" height="9.68" fill="#26a69a"/>
<rect x="521" y="276.28" width="1" height="25.62" fill="#26a69a"/>
<rect x="520" y="279.25" width="3" height="21.14" fill="#26a69a"/>
<rect x="525" y="256.47" width="1" height="23.58" fill="#26a69a"/>
<rect x="524" y="256.47" width="3" height="23.08" fill="#26a69a"/>
<rect x="529" y="257.22" width="1" height="13.4" fill="#ef5350"/>
<rect x="528" y="257.22" width="3" height="7.44" fill="#ef5350"/>
<rect x="533" y="256.72" width="1" height="9.44" fill="#26a69a"/>
<rect x="532" y="257.22" width="3" height="7.44" fill="#26a69a"/>
<rect x="537" y="239.06" width="1" height="22.63" fill="#26a69a"/>
<rect x="536" y="245.01" width="3" height="12.51" fill="#26a69a"/>
<rect x="541" y="242.03" width="1" height="23.87" fill="#ef5350"/>
<rect x="540" y="245.01" width="3" height="20.4" fill="#ef5350"/>
<rect x="545" y="254.99" width="1" height="10.42" fill="#26a69a"/>
<rect x="544" y="257.96" width="3" height="7.44" fill="#26a69a"/>
<rect x="549" y="257.41" width="1" height="14.99" fill="#ef5350"/>
<rect x="548" y="258.41" width="3" height="11.46" fill="#ef5350"/>
<rect x="553" y="257.96" width="1" height="13.91" fill="#26a69a"/>
<rect x="552" y="266.15" width="3" height="3.72" fill="#26a69a"/>
<rect x="557" y="253.05" width="1" height="15.33" fill="#26a69a"/>
<rect x="556" y="260.94" width="3" height="6.4" fill="#26a69a"/>
<rect x="561" y="252.01" width="1" height="9.68" fill="#26a69a"/>
<rect x="560" y="257.22" width="3" height="4.47" fill="#26a69a"/>
<rect x="565" y="257.22" width="1" height="18.61" fill="#ef5350"/>
<rect x="564" y="257.22" width="3" height="16.38" fill="#ef5350"/>
<rect x="569" y="272.85" width="1" height="23.08" fill="#ef5350"/>
<rect x="568" y="272.85" width="3" height="11.17" fill="#ef5350"/>
<rect x="573" y="260.43" width="1" height="30.29" fill="#26a69a"/>
<rect x="572" y="262.43" width="3" height="21.59" fill="#26a69a"/>
<rect x="577" y="248.23" width="1" height="17.69" fill="#26a69a"/>
<rect x="576" y="248.73" width="3" height="15.19" fill="#26a69a"/>
<rect x="581" y="245.31" width="1" height="15.63" fill="#26a69a"/>
<rect x="580" y="245.31" width="3" height="4.47" fill="#26a69a"/>
<rect x="585" y="236.08" width="1" height="12.51" fill="#26a69a"/>
<rect x="584" y="240.1" width="3" height="5.96" fill="#26a69a"/>
<rect x="589" y="238.65" width="1" height="14.1" fill="#ef5350"/>
<rect x="588" y="239.65" width="3" height="4.17" fill="#ef5350"/>
<rect x="593" y="241.08" width="1" height="20.61" fill="#ef5350"/>
<rect x="592" y="243.08" width="3" height="13.85" fill="#ef5350"/>
<rect x="597" y="245.61" width="1" height="16.82" fill="#26a69a"/>
<rect x="596" y="245.61" width="3" height="11.31" fill="#26a69a"/>
<rect x="601" y="245.01" width="1" height="8.93" fill="#ef5350"/>
<rect x="600" y="245.61" width="3" height="8.34" fill="#ef5350"/>
<rect x="605" y="252.55" width="1" height="18.58" fill="#ef5350"/>
<rect x="604" y="253.05" width="3" height="16.08" fill="#ef5350"/>
<rect x="609" y="266.14" width="1" height="27.55" fill="#ef5350"/>
<rect x="608" y="267.64" width="3" height="14.14" fill="#ef5350"/>
<rect x="613" y="267.1" width="1" height="20.48" fill="#26a69a"/>
<rect x="612" y="274.68" width="3" height="7.26" fill="#26a69a"/>
<rect x="617" y="274.18" width="1" height="18.24" fill="#ef5350"/>
<rect x="616" y="274.68" width="3" height="5.65" fill="#ef5350"/>
<rect x="621" y="269.03" width="1" height="17.74" fill="#26a69a"/>
<rect x="620" y="274.68" width="3" height="5.65" fill="#26a69a"/>
<rect x="625" y="262.9" width="1" height="18.71" fill="#26a69a"/>
<rect x="624" y="269.03" width="3" height="6.77" fill="#26a69a"/>
<rect x="629" y="255.32" width="1" height="15.52" fill="#26a69a"/>
<rect x="628" y="256.94" width="3" height="12.9" fill="#26a69a"/>
<rect x="633" y="255.94" width="1" height="30.42" fill="#ef5350"/>
<rect x="632" y="256.94" width="3" height="27.42" fill="#ef5350"/>
<rect x="637" y="269.84" width="1" height="18.55" fill="#26a69a"/>
<rect x="636" y="280.32" width="3" height="4.03" fill="#26a69a"/>
<rect x="641" y="269.84" width="1" height="19.35" fill="#26a69a"/>
<rect x="640" y="277.9" width="3" height="2.42" fill="#26a69a"/>
<rect x="645" y="275.16" width="1" height="13.23" fill="#ef5350"/>
<rect x="644" y="277.9" width="3" height="5.65" fill="#ef5350"/>
<rect x="649" y="277.9" width="1" height="18.55" fill="#ef5350"/>
<rect x="648" y="282.74" width="3" height="12.9" fill="#ef5350"/>
<rect x="653" y="285.97" width="1" height="33.06" fill="#ef5350"/>
<rect x="652" y="294.03" width="3" height="18.55" fill="#ef5350"/>
<rect x="657" y="306.13" width="1" height="20.35" fill="#ef5350"/>
<rect x="656" y="311.77" width="3" height="13.71" fill="#ef5350"/>
<rect x="661" y="323.18" width="1" height="18.44" fill="#ef5350"/>
<rect x="660" y="324.68" width="3" height="16.13" fill="#ef5350"/>
<rect x="666" y="317.42" width="1" height="24.19" fill="#26a69a"/>
<rect x="665" y="317.42" width="3" height="24.19" fill="#26a69a"/>
<rect x="670" y="315.81" width="1" height="20.97" fill="#ef5350"/>
<rect x="669" y="317.42" width="3" height="11.29" fill="#ef5350"/>
<rect x="674" y="325.48" width="1" height="24.19" fill="#ef5350"/>
<rect x="673" y="327.9" width="3" height="16.94" fill="#ef5350"/>
<rect x="678" y="340.81" width="1" height="20.97" fill="#ef5350"/>
<rect x="677" y="344.03" width="3" height="16.13" fill="#ef5350"/>
<rect x="682" y="356.13" width="1" height="14.4" fill="#ef5350"/>
<rect x="681" y="359.35" width="3" height="9.68" fill="#ef5350"/>
<rect x="686" y="360.16" width="1" height="10.37" fill="#26a69a"/>
<rect x="685" y="361.77" width="3" height="7.26" fill="#26a69a"/>
<rect x="690" y="339.19" width="1" height="29.84" fill="#26a69a"/>
<rect x="689" y="344.84" width="3" height="18.55" fill="#26a69a"/>
<rect x="694" y="324.68" width="1" height="24.19" fill="#26a69a"/>
<rect x="693" y="330.32" width="3" height="16.13" fill="#26a69a"/>
<rect x="698" y="328.82" width="1" height="22.47" fill="#ef5350"/>
<rect x="697" y="330.32" width="3" height="4.03" fill="#ef5350"/>
<rect x="702" y="332.05" width="1" height="30.73" fill="#ef5350"/>
<rect x="701" y="333.55" width="3" height="28.23" fill="#ef5350"/>
<rect x="706" y="340" width="1" height="24.19" fill="#26a69a"/>
<rect x="705" y="345.65" width="3" height="16.94" fill="#26a69a"/>
<rect x="710" y="332.74" width="1" height="15.32" fill="#26a69a"/>
<rect x="709" y="337.58" width="3" height="9.68" fill="#26a69a"/>
<rect x="714" y="336.77" width="1" height="14.52" fill="#ef5350"/>
<rect x="713" y="337.58" width="3" height="8.06" fill="#ef5350"/>
<rect x="718" y="332.74" width="1" height="16.13" fill="#26a69a"/>
<rect x="717" y="339.19" width="3" height="6.45" fill="#26a69a"/>
<rect x="722" y="325.48" width="1" height="16.13" fill="#26a69a"/>
<rect x="721" y="325.48" width="3" height="14.52" fill="#26a69a"/>
<rect x="726" y="313.26" width="1" height="12.28" fill="#26a69a"/>
<rect x="725" y="313.76" width="3" height="11.78" fill="#26a69a"/>
<rect x="730" y="297.02" width="1" height="23.57" fill="#26a69a"/>
<rect x="729" y="300.74" width="3" height="13.64" fill="#26a69a"/>
<rect x="734" y="288.09" width="1" height="14.89" fill="#26a69a"/>
<rect x="733" y="289.58" width="3" height="12.4" fill="#26a69a"/>
<rect x="738" y="277.79" width="1" height="14.02" fill="#26a69a"/>
<rect x="737" y="280.89" width="3" height="9.92" fill="#26a69a"/>
<rect x="742" y="275.93" width="1" height="12.42" fill="#ef5350"/>
<rect x="741" y="280.89" width="3" height="5.95" fill="#ef5350"/>
<rect x="746" y="267.25" width="1" height="20.1" fill="#26a69a"/>
<rect x="745" y="271.96" width="3" height="14.88" fill="#26a69a"/>
<rect x="750" y="270.97" width="1" height="10.92" fill="#ef5350"/>
<rect x="749" y="271.96" width="3" height="5.21" fill="#ef5350"/>
<rect x="754" y="274.07" width="1" height="16.75" fill="#ef5350"/>
<rect x="753" y="275.93" width="3" height="9.92" fill="#ef5350"/>
<rect x="758" y="264.01" width="1" height="21.85" fill="#26a69a"/>
<rect x="757" y="266.01" width="3" height="19.85" fill="#26a69a"/>
<rect x="762" y="257.95" width="1" height="13.02" fill="#26a69a"/>
<rect x="761" y="259.81" width="3" height="7.19" fill="#26a69a"/>
<rect x="766" y="259.31" width="1" height="10.42" fill="#ef5350"/>
<rect x="765" y="259.81" width="3" height="6.82" fill="#ef5350"/>
<rect x="770" y="259.81" width="1" height="12.16" fill="#ef5350"/>
<rect x="769" y="266.01" width="3" height="2.73" fill="#ef5350"/>
<rect x="774" y="265.87" width="1" height="10.06" fill="#ef5350"/>
<rect x="773" y="267.87" width="3" height="4.96" fill="#ef5350"/>
<rect x="778" y="270.96" width="1" height="11.79" fill="#ef5350"/>
<rect x="777" y="271.96" width="3" height="7.69" fill="#ef5350"/>
<rect x="782" y="275.93" width="1" height="12.28" fill="#ef5350"/>
<rect x="781" y="279.03" width="3" height="8.68" fill="#ef5350"/>
<rect x="786" y="267.87" width="1" height="21.85" fill="#26a69a"/>
<rect x="785" y="273.2" width="3" height="14.51" fill="#26a69a"/>
<rect x="790" y="272.83" width="1" height="9.05" fill="#ef5350"/>
<rect x="789" y="272.83" width="3" height="7.07" fill="#ef5350"/>
<rect x="794" y="273.2" width="1" height="11.41" fill="#26a69a"/>
<rect x="793" y="274.94" width="3" height="4.96" fill="#26a69a"/>
<rect x="798" y="268.1" width="1" height="9.08" fill="#26a69a"/>
<rect x="797" y="270.1" width="3" height="6.08" fill="#26a69a"/>
<rect x="802" y="251.13" width="1" height="20.6" fill="#26a69a"/>
<rect x="801" y="251.13" width="3" height="19.6" fill="#26a69a"/>
<rect x="806" y="249.13" width="1" height="6.71" fill="#ef5350"/>
<rect x="805" y="251.13" width="3" height="1.49" fill="#ef5350"/>
<rect x="810" y="243.06" width="1" height="11.78" fill="#26a69a"/>
<rect x="809" y="252.37" width="3" height="1.24" fill="#26a69a"/>
<rect x="814" y="248.89" width="1" height="14.02" fill="#ef5350"/>
<rect x="813" y="252.37" width="3" height="2.48" fill="#ef5350"/>
<rect x="818" y="252.61" width="1" height="8.19" fill="#ef5350"/>
<rect x="817" y="253.61" width="3" height="2.23" fill="#ef5350"/>
<rect x="822" y="254.59" width="1" height="10.18" fill="#ef5350"/>
<rect x="821" y="255.09" width="3" height="4.71" fill="#ef5350"/>
<rect x="826" y="258.19" width="1" height="9.68" fill="#ef5350"/>
<rect x="825" y="259.19" width="3" height="4.34" fill="#ef5350"/>
<rect x="830" y="254.85" width="1" height="20.35" fill="#ef5350"/>
<rect x="829" y="263.28" width="3" height="11.41" fill="#ef5350"/>
<rect x="834" y="264.15" width="1" height="12.54" fill="#26a69a"/>
<rect x="833" y="270.35" width="3" height="4.34" fill="#26a69a"/>
<rect x="838" y="268.35" width="1" height="11.3" fill="#ef5350"/>
<rect x="837" y="270.35" width="3" height="7.44" fill="#ef5350"/>
<rect x="842" y="270.97" width="1" height="9.92" fill="#26a69a"/>
<rect x="841" y="272.83" width="3" height="4.96" fill="#26a69a"/>
<rect x="846" y="270.83" width="1" height="8.2" fill="#ef5350"/>
<rect x="845" y="272.83" width="3" height="1.86" fill="#ef5350"/>
<rect x="850" y="273.07" width="1" height="33.13" fill="#ef5350"/>
<rect x="849" y="274.07" width="3" height="31.63" fill="#ef5350"/>
<rect x="854" y="300.78" width="1" height="19.37" fill="#ef5350"/>
<rect x="853" y="305.12" width="3" height="13.02" fill="#ef5350"/>
<rect x="858" y="299.54" width="1" height="18.49" fill="#26a69a"/>
<rect x="857" y="307.6" width="3" height="9.92" fill="#26a69a"/>
<rect x="862" y="293.46" width="1" height="18.49" fill="#26a69a"/>
<rect x="861" y="293.96" width="3" height="13.64" fill="#26a69a"/>
<rect x="866" y="276.96" width="1" height="19.11" fill="#26a69a"/>
<rect x="865" y="286.14" width="3" height="8.43" fill="#26a69a"/>
<rect x="870" y="263.07" width="1" height="24.57" fill="#26a69a"/>
<rect x="869" y="263.57" width="3" height="23.57" fill="#26a69a"/>
<rect x="874" y="252.16" width="1" height="15.75" fill="#26a69a"/>
<rect x="873" y="254.88" width="3" height="9.92" fill="#26a69a"/>
<rect x="878" y="252.47" width="1" height="13.58" fill="#26a69a"/>
<rect x="877" y="254.47" width="3" height="1.2" fill="#26a69a"/>
<rect x="882" y="253.14" width="1" height="10.43" fill="#ef5350"/>
<rect x="881" y="254.64" width="3" height="5.83" fill="#ef5350"/>
<rect x="886" y="259.09" width="1" height="12.91" fill="#ef5350"/>
<rect x="885" y="260.09" width="3" height="5.33" fill="#ef5350"/>
<rect x="890" y="265.06" width="1" height="17.12" fill="#ef5350"/>
<rect x="889" y="265.06" width="3" height="17.12" fill="#ef5350"/>
<rect x="894" y="264.81" width="1" height="19.85" fill="#26a69a"/>
<rect x="893" y="266.05" width="3" height="15.5" fill="#26a69a"/>
<rect x="898" y="266.04" width="1" height="24.83" fill="#ef5350"/>
<rect x="897" y="267.04" width="3" height="22.33" fill="#ef5350"/>
<rect x="902" y="272" width="1" height="17.62" fill="#26a69a"/>
<rect x="901" y="284.03" width="3" height="4.59" fill="#26a69a"/>
<rect x="906" y="283.16" width="1" height="12.66" fill="#ef5350"/>
<rect x="905" y="283.66" width="3" height="4.96" fill="#ef5350"/>
<rect x="910" y="286.13" width="1" height="19.37" fill="#ef5350"/>
<rect x="909" y="288.13" width="3" height="16.37" fill="#ef5350"/>
<rect x="914" y="290.86" width="1" height="14.15" fill="#26a69a"/>
<rect x="913" y="297.06" width="3" height="6.45" fill="#26a69a"/>
<rect x="918" y="295.27" width="1" height="10.47" fill="#26a69a"/>
<rect x="917" y="296.27" width="3" height="1.2" fill="#26a69a"/>
<rect x="922" y="274.35" width="1" height="22.95" fill="#26a69a"/>
<rect x="921" y="275.35" width="3" height="21.95" fill="#26a69a"/>
<rect x="926" y="272.25" width="1" height="14.64" fill="#ef5350"/>
<rect x="925" y="275.97" width="3" height="4.96" fill="#ef5350"/>
<rect x="930" y="279.44" width="1" height="18.24" fill="#ef5350"/>
<rect x="929" y="279.94" width="3" height="17.12" fill="#ef5350"/>
<rect x="934" y="292.72" width="1" height="7.81" fill="#ef5350"/>
<rect x="933" y="294.58" width="3" height="5.95" fill="#ef5350"/>
<rect x="939" y="299.29" width="1" height="8.31" fill="#ef5350"/>
<rect x="938" y="299.79" width="3" height="5.95" fill="#ef5350"/>
<rect x="943" y="299.53" width="1" height="6.96" fill="#26a69a"/>
<rect x="942" y="301.03" width="3" height="4.96" fill="#26a69a"/>
<rect x="947" y="286.89" width="1" height="23.58" fill="#ef5350"/>
<rect x="946" y="300.78" width="3" height="8.68" fill="#ef5350"/>
<rect x="951" y="308.34" width="1" height="25.93" fill="#ef5350"/>
<rect x="950" y="308.84" width="3" height="21.71" fill="#ef5350"/>
<rect x="955" y="320.37" width="1" height="12.8" fill="#26a69a"/>
<rect x="954" y="321.87" width="3" height="9.3" fill="#26a69a"/>
<rect x="959" y="303.88" width="1" height="24.81" fill="#26a69a"/>
<rect x="958" y="307.97" width="3" height="14.51" fill="#26a69a"/>
<rect x="963" y="306.22" width="1" height="14.4" fill="#ef5350"/>
<rect x="962" y="308.22" width="3" height="3.72" fill="#ef5350"/>
<rect x="967" y="311.13" width="1" height="12.5" fill="#ef5350"/>
<rect x="966" y="311.13" width="3" height="9.71" fill="#ef5350"/>
<rect x="971" y="318.78" width="1" height="22.59" fill="#ef5350"/>
<rect x="970" y="320.28" width="3" height="20.09" fill="#ef5350"/>
<rect x="975" y="328.65" width="1" height="11.72" fill="#26a69a"/>
<rect x="974" y="328.65" width="3" height="11.72" fill="#26a69a"/>
<rect x="979" y="310.97" width="1" height="19.3" fill="#26a69a"/>
<rect x="978" y="312.47" width="3" height="17.3" fill="#26a69a"/>
<rect x="983" y="307.62" width="1" height="13.22" fill="#26a69a"/>
<rect x="982" y="309.12" width="3" height="4.47" fill="#26a69a"/>
<rect x="987" y="295.95" width="1" height="19.87" fill="#26a69a"/>
<rect x="986" y="299.63" width="3" height="10.05" fill="#26a69a"/>
<rect x="991" y="297.4" width="1" height="11.16" fill="#ef5350"/>
<rect x="990" y="299.63" width="3" height="7.81" fill="#ef5350"/>
<rect x="995" y="299.07" width="1" height="17.86" fill="#ef5350"/>
<rect x="994" y="305.77" width="3" height="7.26" fill="#ef5350"/>
<rect x="999" y="310.46" width="1" height="9.27" fill="#ef5350"/>
<rect x="998" y="312.24" width="3" height="2.46" fill="#ef5350"/>
<rect x="1003" y="300.19" width="1" height="17.3" fill="#26a69a"/>
<rect x="1002" y="302.98" width="3" height="11.72" fill="#26a69a"/>
<rect x="1007" y="290.14" width="1" height="13.9" fill="#26a69a"/>
<rect x="1006" y="298.51" width="3" height="5.02" fill="#26a69a"/>
<rect x="1011" y="295.16" width="1" height="16.74" fill="#ef5350"/>
<rect x="1010" y="298.51" width="3" height="10.61" fill="#ef5350"/>
<rect x="1015" y="307.62" width="1" height="9.87" fill="#ef5350"/>
<rect x="1014" y="309.12" width="3" height="5.02" fill="#ef5350"/>
<rect x="1019" y="304.21" width="1" height="12.72" fill="#26a69a"/>
<rect x="1018" y="305.21" width="3" height="8.37" fill="#26a69a"/>
<rect x="1023" y="291.26" width="1" height="14.51" fill="#26a69a"/>
<rect x="1022" y="294.05" width="3" height="11.72" fill="#26a69a"/>
<rect x="1027" y="283.22" width="1" height="13.44" fill="#26a69a"/>
<rect x="1026" y="285.12" width="3" height="10.05" fill="#26a69a"/>
<rect x="1031" y="277.86" width="1" height="9.09" fill="#26a69a"/>
<rect x="1030" y="281.21" width="3" height="4.24" fill="#26a69a"/>
<rect x="1035" y="280.09" width="1" height="13.4" fill="#ef5350"/>
<rect x="1034" y="281.21" width="3" height="2.23" fill="#ef5350"/>
<rect x="1039" y="280.27" width="1" height="13.22" fill="#ef5350"/>
<rect x="1038" y="281.77" width="3" height="8.93" fill="#ef5350"/>
<rect x="1043" y="290.36" width="1" height="9.27" fill="#ef5350"/>
<rect x="1042" y="290.36" width="3" height="5.58" fill="#ef5350"/>
<rect x="1047" y="281.77" width="1" height="15.01" fill="#26a69a"/>
<rect x="1046" y="285.12" width="3" height="11.16" fill="#26a69a"/>
<rect x="1051" y="284.28" width="1" height="18.14" fill="#ef5350"/>
<rect x="1050" y="284.78" width="3" height="13.73" fill="#ef5350"/>
<rect x="1055" y="287.91" width="1" height="11.11" fill="#26a69a"/>
<rect x="1054" y="291.26" width="3" height="7.26" fill="#26a69a"/>
<rect x="1059" y="291.26" width="1" height="14.51" fill="#ef5350"/>
<rect x="1058" y="291.26" width="3" height="8.93" fill="#ef5350"/>
<rect x="1063" y="299.46" width="1" height="13.66" fill="#ef5350"/>
<rect x="1062" y="299.96" width="3" height="11.16" fill="#ef5350"/>
<rect x="1067" y="308.96" width="1" height="6.86" fill="#ef5350"/>
<rect x="1066" y="310.46" width="3" height="2.01" fill="#ef5350"/>
<rect x="1071" y="310.23" width="1" height="5.58" fill="#26a69a"/>
<rect x="1070" y="311.13" width="3" height="1.34" fill="#26a69a"/>
<rect x="1075" y="302.2" width="1" height="9.65" fill="#26a69a"/>
<rect x="1074" y="309.12" width="3" height="2.23" fill="#26a69a"/>
<rect x="1079" y="307.12" width="1" height="28" fill="#ef5350"/>
<rect x="1078" y="309.12" width="3" height="24" fill="#ef5350"/>
<rect x="1083" y="330.25" width="1" height="19.36" fill="#ef5350"/>
<rect x="1082" y="331.75" width="3" height="12.9" fill="#ef5350"/>
<rect x="1087" y="341.27" width="1" height="16.27" fill="#ef5350"/>
<rect x="1086" y="343.65" width="3" height="7.94" fill="#ef5350"/>
<rect x="1091" y="350.19" width="1" height="19.25" fill="#ef5350"/>
<rect x="1090" y="351.19" width="3" height="14.29" fill="#ef5350"/>
<rect x="1095" y="335.32" width="1" height="30.66" fill="#26a69a"/>
<rect x="1094" y="342.66" width="3" height="22.82" fill="#26a69a"/>
<rect x="1099" y="339.68" width="1" height="17.86" fill="#ef5350"/>
<rect x="1098" y="342.66" width="3" height="6.94" fill="#ef5350"/>
<rect x="1103" y="346.61" width="1" height="32.77" fill="#ef5350"/>
<rect x="1102" y="348.61" width="3" height="28.77" fill="#ef5350"/>
<rect x="1107" y="363.89" width="1" height="26.89" fill="#ef5350"/>
<rect x="1106" y="375.4" width="3" height="14.88" fill="#ef5350"/>
<rect x="1111" y="378.37" width="1" height="29.76" fill="#26a69a"/>
<rect x="1110" y="378.37" width="3" height="11.9" fill="#26a69a"/>
<rect x="1115" y="378.37" width="1" height="37.7" fill="#ef5350"/>
<rect x="1114" y="378.37" width="3" height="22.82" fill="#ef5350"/>
<rect x="1119" y="391.27" width="1" height="23.81" fill="#ef5350"/>
<rect x="1118" y="401.19" width="3" height="12.9" fill="#ef5350"/>
<rect x="1123" y="405.16" width="1" height="27.78" fill="#ef5350"/>
<rect x="1122" y="413.1" width="3" height="14.88" fill="#ef5350"/>
<rect x="1127" y="417.06" width="1" height="19.84" fill="#ef5350"/>
<rect x="1126" y="426.98" width="3" height="8.93" fill="#ef5350"/>
<rect x="1131" y="420.04" width="1" height="19.84" fill="#26a69a"/>
<rect x="1130" y="422.02" width="3" height="13.89" fill="#26a69a"/>
<rect x="1135" y="400.2" width="1" height="16.87" fill="#26a69a"/>
<rect x="1134" y="406.15" width="3" height="10.91" fill="#26a69a"/>
<rect x="1139" y="404.15" width="1" height="32.75" fill="#ef5350"/>
<rect x="1138" y="406.15" width="3" height="17.86" fill="#ef5350"/>
<rect x="1143" y="423.51" width="1" height="25.81" fill="#ef5350"/>
<rect x="1142" y="424.01" width="3" height="23.81" fill="#ef5350"/>
<rect x="1147" y="446.33" width="1" height="12.4" fill="#ef5350"/>
<rect x="1146" y="446.83" width="3" height="3.97" fill="#ef5350"/>
<rect x="1151" y="434.42" width="1" height="16.37" fill="#26a69a"/>
<rect x="1150" y="434.92" width="3" height="15.87" fill="#26a69a"/>
<rect x="1155" y="405.15" width="1" height="30.27" fill="#26a69a"/>
<rect x="1154" y="406.15" width="3" height="28.77" fill="#26a69a"/>
<rect x="1159" y="401.19" width="1" height="21.83" fill="#ef5350"/>
<rect x="1158" y="406.15" width="3" height="1.98" fill="#ef5350"/>
<rect x="1163" y="397.22" width="1" height="16.87" fill="#26a69a"/>
<rect x="1162" y="402.78" width="3" height="5.36" fill="#26a69a"/>
<rect x="1167" y="398.21" width="1" height="6.97" fill="#26a69a"/>
<rect x="1166" y="399.21" width="3" height="3.97" fill="#26a69a"/>
<rect x="1171" y="388.82" width="1" height="16.74" fill="#ef5350"/>
<rect x="1170" y="398.86" width="3" height="1.67" fill="#ef5350"/>
<rect x="1175" y="399.2" width="1" height="15.06" fill="#ef5350"/>
<rect x="1174" y="399.7" width="3" height="12.56" fill="#ef5350"/>
<rect x="1179" y="404.73" width="1" height="15.24" fill="#26a69a"/>
<rect x="1178" y="410.59" width="3" height="1.67" fill="#26a69a"/>
<rect x="1183" y="388.82" width="1" height="23.61" fill="#26a69a"/>
<rect x="1182" y="391.33" width="3" height="20.09" fill="#26a69a"/>
<rect x="1187" y="383.79" width="1" height="16.74" fill="#26a69a"/>
<rect x="1186" y="385.13" width="3" height="7.87" fill="#26a69a"/>
<rect x="1191" y="380.11" width="1" height="17.24" fill="#ef5350"/>
<rect x="1190" y="385.13" width="3" height="11.22" fill="#ef5350"/>
<rect x="1195" y="383.79" width="1" height="13.72" fill="#26a69a"/>
<rect x="1194" y="387.98" width="3" height="7.54" fill="#26a69a"/>
<rect x="1199" y="385.8" width="1" height="9.2" fill="#ef5350"/>
<rect x="1198" y="387.48" width="3" height="6.03" fill="#ef5350"/>
<rect x="1203" y="392" width="1" height="20.59" fill="#ef5350"/>
<rect x="1202" y="392.5" width="3" height="14.74" fill="#ef5350"/>
<rect x="1207" y="403.05" width="1" height="10.88" fill="#ef5350"/>
<rect x="1206" y="405.56" width="3" height="8.37" fill="#ef5350"/>
<rect x="1212" y="395.52" width="1" height="24.45" fill="#26a69a"/>
<rect x="1211" y="398.03" width="3" height="15.91" fill="#26a69a"/>
<rect x="1216" y="383.13" width="1" height="18.58" fill="#26a69a"/>
<rect x="1215" y="384.13" width="3" height="16.08" fill="#26a69a"/>
<rect x="1220" y="355.84" width="1" height="30.79" fill="#26a69a"/>
<rect x="1219" y="357.84" width="3" height="26.79" fill="#26a69a"/>
<rect x="1224" y="341.1" width="1" height="18.75" fill="#26a69a"/>
<rect x="1223" y="343.27" width="3" height="15.07" fill="#26a69a"/>
<rect x="1228" y="341.61" width="1" height="17.07" fill="#ef5350"/>
<rect x="1227" y="343.61" width="3" height="11.72" fill="#ef5350"/>
<rect x="1232" y="330.05" width="1" height="27.28" fill="#26a69a"/>
<rect x="1231" y="330.55" width="3" height="24.78" fill="#26a69a"/>
<rect x="1236" y="330.05" width="1" height="10.55" fill="#ef5350"/>
<rect x="1235" y="330.55" width="3" height="5.53" fill="#ef5350"/>
<rect x="1240" y="331.05" width="1" height="17.25" fill="#26a69a"/>
<rect x="1239" y="335.23" width="3" height="1.67" fill="#26a69a"/>
<rect x="1244" y="334.9" width="1" height="12.89" fill="#26a69a"/>
<rect x="1243" y="335.23" width="3" height="1.34" fill="#26a69a"/>
<rect x="1248" y="331.56" width="1" height="13.72" fill="#26a69a"/>
<rect x="1247" y="333.56" width="3" height="2.51" fill="#26a69a"/>
<rect x="1252" y="316.82" width="1" height="19.26" fill="#26a69a"/>
<rect x="1251" y="328.87" width="3" height="6.03" fill="#26a69a"/>
<rect x="1256" y="323.18" width="1" height="16.24" fill="#ef5350"/>
<rect x="1255" y="328.87" width="3" height="8.04" fill="#ef5350"/>
<rect x="1260" y="333.23" width="1" height="12.05" fill="#ef5350"/>
<rect x="1259" y="335.23" width="3" height="6.7" fill="#ef5350"/>
<rect x="1264" y="329.37" width="1" height="13.4" fill="#26a69a"/>
<rect x="1263" y="334.4" width="3" height="8.37" fill="#26a69a"/>
<rect x="1268" y="325.36" width="1" height="9.54" fill="#26a69a"/>
<rect x="1267" y="326.86" width="3" height="7.54" fill="#26a69a"/>
<rect x="1272" y="313.48" width="1" height="5.01" fill="#ef5350"/>
<rect x="1271" y="315.48" width="3" height="3.01" fill="#ef5350"/>
<rect x="1276" y="308.11" width="1" height="17.08" fill="#26a69a"/>
<rect x="1275" y="314.3" width="3" height="8.37" fill="#26a69a"/>
<rect x="1280" y="306.77" width="1" height="11.72" fill="#26a69a"/>
<rect x="1279" y="309.28" width="3" height="5.02" fill="#26a69a"/>
<rect x="1284" y="308.78" width="1" height="11.38" fill="#ef5350"/>
<rect x="1283" y="309.28" width="3" height="7.54" fill="#ef5350"/>
<rect x="1288" y="310.95" width="1" height="11.38" fill="#ef5350"/>
<rect x="1287" y="315.98" width="3" height="5.86" fill="#ef5350"/>
<rect x="1292" y="309.28" width="1" height="14.57" fill="#26a69a"/>
<rect x="1291" y="313.13" width="3" height="8.71" fill="#26a69a"/>
<rect x="1296" y="312.63" width="1" height="10.71" fill="#ef5350"/>
<rect x="1295" y="313.13" width="3" height="8.71" fill="#ef5350"/>
<rect x="1300" y="296.06" width="1" height="25.44" fill="#26a69a"/>
<rect x="1299" y="298.06" width="3" height="23.44" fill="#26a69a"/>
<rect x="1304" y="290.86" width="1" height="20.09" fill="#26a69a"/>
<rect x="1303" y="295.05" width="3" height="4.19" fill="#26a69a"/>
<rect x="1308" y="292.03" width="1" height="10.04" fill="#ef5350"/>
<rect x="1307" y="295.05" width="3" height="5.02" fill="#ef5350"/>
<polygon points="0,-19.9 1378.5,377.11 1378.5,460.01 0,63.0" fill="rgb(33,150,243)" fill-opacity="0.3"/>
<polygon points="0,63.0 1378.5,460.01 1378.5,575.01 0,178.0" fill="rgb(244,67,54)" fill-opacity="0.3"/>
<line x1="81" y1="3.43" x2="1378.5" y2="377.11" stroke="#2196f3" stroke-width="1.2"/>
<line x1="0" y1="299.5" x2="1378.5" y2="299.5" stroke="#ef5350" stroke-width="1" stroke-dasharray="1 2"/>
<line x1="0" y1="472.5" x2="1378.5" y2="472.5" stroke="#d61f1f" stroke-width="3" stroke-dasharray="3 6" stroke-dashoffset="-1.5"/>
</g>
<rect x="0" y="527.5" width="1453" height="1" fill="#e0e3eb"/>
<g clip-path="url(#cm)">
<rect x="7" y="528.5" width="1" height="190.5" fill="rgba(42,46,57,0.07)"/>
<rect x="127" y="528.5" width="1" height="190.5" fill="rgba(42,46,57,0.07)"/>
<rect x="248" y="528.5" width="1" height="190.5" fill="rgba(42,46,57,0.07)"/>
<rect x="368" y="528.5" width="1" height="190.5" fill="rgba(42,46,57,0.07)"/>
<rect x="489" y="528.5" width="1" height="190.5" fill="rgba(42,46,57,0.07)"/>
<rect x="609" y="528.5" width="1" height="190.5" fill="rgba(42,46,57,0.07)"/>
<rect x="730" y="528.5" width="1" height="190.5" fill="rgba(42,46,57,0.07)"/>
<rect x="850" y="528.5" width="1" height="190.5" fill="rgba(42,46,57,0.07)"/>
<rect x="971" y="528.5" width="1" height="190.5" fill="rgba(42,46,57,0.07)"/>
<rect x="1091" y="528.5" width="1" height="190.5" fill="rgba(42,46,57,0.07)"/>
<rect x="1212" y="528.5" width="1" height="190.5" fill="rgba(42,46,57,0.07)"/>
<rect x="1332" y="528.5" width="1" height="190.5" fill="rgba(42,46,57,0.07)"/>
<rect x="0" y="572" width="1378.5" height="1" fill="rgba(42,46,57,0.07)"/>
<rect x="0" y="615.5" width="1378.5" height="1" fill="rgba(42,46,57,0.07)"/>
<rect x="0" y="658.9" width="1378.5" height="1" fill="rgba(42,46,57,0.07)"/>
<rect x="0" y="702.8" width="1378.5" height="1" fill="rgba(42,46,57,0.07)"/>
<rect x="2" y="647.2" width="3" height="12.2" fill="#b2dfdb"/>
<rect x="6" y="646.4" width="3" height="13" fill="#26a69a"/>
<rect x="10" y="647.2" width="3" height="12.2" fill="#26a69a"/>
<rect x="14" y="646.4" width="3" height="13" fill="#26a69a"/>
<rect x="18" y="648.4" width="3" height="11" fill="#b2dfdb"/>
<rect x="22" y="651" width="3" height="8.4" fill="#b2dfdb"/>
<rect x="26" y="652.8" width="3" height="6.6" fill="#b2dfdb"/>
<rect x="30" y="655.6" width="3" height="3.8" fill="#b2dfdb"/>
<rect x="34" y="658.1" width="3" height="1.3" fill="#b2dfdb"/>
<rect x="38" y="659.4" width="3" height="1.8" fill="#ff5252"/>
<rect x="42" y="659.4" width="3" height="3" fill="#ff5252"/>
<rect x="46" y="659.4" width="3" height="4.3" fill="#ff5252"/>
<rect x="50" y="659.4" width="3" height="5.6" fill="#ff5252"/>
<rect x="54" y="659.4" width="3" height="6.9" fill="#ff5252"/>
<rect x="58" y="659.4" width="3" height="7.6" fill="#ff5252"/>
<rect x="62" y="659.4" width="3" height="5" fill="#ffcdd2"/>
<rect x="66" y="659.4" width="3" height="3.8" fill="#ffcdd2"/>
<rect x="70" y="659.4" width="3" height="3.6" fill="#ffcdd2"/>
<rect x="74" y="659.4" width="3" height="5.6" fill="#ff5252"/>
<rect x="78" y="659.4" width="3" height="6.9" fill="#ff5252"/>
<rect x="82" y="659.4" width="3" height="7.6" fill="#ff5252"/>
<rect x="86" y="659.4" width="3" height="8.9" fill="#ff5252"/>
<rect x="90" y="659.4" width="3" height="9.4" fill="#ff5252"/>
<rect x="94" y="659.4" width="3" height="10" fill="#ff5252"/>
<rect x="98" y="659.4" width="3" height="10" fill="#ff5252"/>
<rect x="102" y="659.4" width="3" height="6.9" fill="#ffcdd2"/>
<rect x="106" y="659.4" width="3" height="5.6" fill="#ffcdd2"/>
<rect x="110" y="659.4" width="3" height="8" fill="#ff5252"/>
<rect x="114" y="659.4" width="3" height="8.9" fill="#ff5252"/>
<rect x="119" y="659.4" width="3" height="9.4" fill="#ff5252"/>
<rect x="123" y="659.4" width="3" height="8" fill="#ffcdd2"/>
<rect x="127" y="659.4" width="3" height="8" fill="#ffcdd2"/>
<rect x="131" y="659.4" width="3" height="8.9" fill="#ff5252"/>
<rect x="135" y="659.4" width="3" height="5" fill="#ffcdd2"/>
<rect x="139" y="659.4" width="3" height="3" fill="#ffcdd2"/>
<rect x="143" y="659.4" width="3" height="1.3" fill="#ffcdd2"/>
<rect x="147" y="659.4" width="3" height="1" fill="#ffcdd2"/>
<rect x="151" y="659.4" width="3" height="5" fill="#ff5252"/>
<rect x="155" y="659.4" width="3" height="6.9" fill="#ff5252"/>
<rect x="159" y="659.4" width="3" height="9.4" fill="#ff5252"/>
<rect x="163" y="659.4" width="3" height="11.4" fill="#ff5252"/>
<rect x="167" y="659.4" width="3" height="7.6" fill="#ffcdd2"/>
<rect x="171" y="659.4" width="3" height="5.6" fill="#ffcdd2"/>
<rect x="175" y="659.4" width="3" height="4.3" fill="#ffcdd2"/>
<rect x="179" y="659.4" width="3" height="3.8" fill="#ffcdd2"/>
<rect x="183" y="659.4" width="3" height="3" fill="#ffcdd2"/>
<rect x="187" y="659.4" width="3" height="1.8" fill="#ffcdd2"/>
<rect x="191" y="659.4" width="3" height="1.3" fill="#ffcdd2"/>
<rect x="195" y="659.4" width="3" height="1.3" fill="#ffcdd2"/>
<rect x="199" y="659.4" width="3" height="1.8" fill="#ff5252"/>
<rect x="203" y="659.4" width="3" height="1.3" fill="#ffcdd2"/>
<rect x="207" y="659.4" width="3" height="1.3" fill="#ffcdd2"/>
<rect x="211" y="659.4" width="3" height="1.3" fill="#ffcdd2"/>
<rect x="215" y="659.4" width="3" height="1.8" fill="#ff5252"/>
<rect x="219" y="659.4" width="3" height="1.8" fill="#ff5252"/>
<rect x="223" y="659.4" width="3" height="3" fill="#ff5252"/>
<rect x="227" y="659.4" width="3" height="1" fill="#ffcdd2"/>
<rect x="231" y="658.1" width="3" height="1.3" fill="#26a69a"/>
<rect x="235" y="658.1" width="3" height="1.3" fill="#26a69a"/>
<rect x="239" y="658.1" width="3" height="1.3" fill="#26a69a"/>
<rect x="243" y="655.6" width="3" height="3.8" fill="#26a69a"/>
<rect x="247" y="658.6" width="3" height="1" fill="#b2dfdb"/>
<rect x="251" y="659.4" width="3" height="1.8" fill="#ff5252"/>
<rect x="255" y="659.4" width="3" height="3" fill="#ff5252"/>
<rect x="259" y="659.4" width="3" height="5.6" fill="#ff5252"/>
<rect x="263" y="659.4" width="3" height="3" fill="#ffcdd2"/>
<rect x="267" y="659.4" width="3" height="5.6" fill="#ff5252"/>
<rect x="271" y="659.4" width="3" height="6.9" fill="#ff5252"/>
<rect x="275" y="659.4" width="3" height="6.9" fill="#ff5252"/>
<rect x="279" y="659.4" width="3" height="9.4" fill="#ff5252"/>
<rect x="283" y="659.4" width="3" height="10" fill="#ff5252"/>
<rect x="287" y="659.4" width="3" height="6.9" fill="#ffcdd2"/>
<rect x="291" y="659.4" width="3" height="8" fill="#ff5252"/>
<rect x="295" y="659.4" width="3" height="12.7" fill="#ff5252"/>
<rect x="299" y="659.4" width="3" height="5.6" fill="#ffcdd2"/>
<rect x="303" y="659.4" width="3" height="3.6" fill="#ffcdd2"/>
<rect x="307" y="659.4" width="3" height="1.8" fill="#ffcdd2"/>
<rect x="311" y="658.6" width="3" height="1" fill="#26a69a"/>
<rect x="315" y="653.6" width="3" height="5.8" fill="#26a69a"/>
<rect x="319" y="651" width="3" height="8.4" fill="#26a69a"/>
<rect x="323" y="653.6" width="3" height="5.8" fill="#b2dfdb"/>
<rect x="327" y="658.1" width="3" height="1.3" fill="#b2dfdb"/>
<rect x="331" y="659.4" width="3" height="1" fill="#ff5252"/>
<rect x="335" y="658.6" width="3" height="1" fill="#26a69a"/>
<rect x="339" y="658.6" width="3" height="1" fill="#26a69a"/>
<rect x="343" y="658.6" width="3" height="1" fill="#26a69a"/>
<rect x="347" y="659.4" width="3" height="1.8" fill="#ff5252"/>
<rect x="351" y="659.4" width="3" height="3" fill="#ff5252"/>
<rect x="355" y="659.4" width="3" height="1.8" fill="#ffcdd2"/>
<rect x="359" y="659.4" width="3" height="5.6" fill="#ff5252"/>
<rect x="363" y="659.4" width="3" height="12" fill="#ff5252"/>
<rect x="367" y="659.4" width="3" height="7.6" fill="#ffcdd2"/>
<rect x="371" y="659.4" width="3" height="3.8" fill="#ffcdd2"/>
<rect x="375" y="659.4" width="3" height="6.9" fill="#ff5252"/>
<rect x="379" y="659.4" width="3" height="1" fill="#ffcdd2"/>
<rect x="383" y="658.1" width="3" height="1.3" fill="#26a69a"/>
<rect x="387" y="656.6" width="3" height="2.8" fill="#26a69a"/>
<rect x="392" y="658.1" width="3" height="1.3" fill="#b2dfdb"/>
<rect x="396" y="658.1" width="3" height="1.3" fill="#b2dfdb"/>
<rect x="400" y="656.6" width="3" height="2.8" fill="#26a69a"/>
<rect x="404" y="653.6" width="3" height="5.8" fill="#26a69a"/>
<rect x="408" y="652.8" width="3" height="6.6" fill="#26a69a"/>
<rect x="412" y="656.1" width="3" height="3.3" fill="#b2dfdb"/>
<rect x="416" y="659.4" width="3" height="1.8" fill="#ff5252"/>
<rect x="420" y="659.4" width="3" height="5.6" fill="#ff5252"/>
<rect x="424" y="659.4" width="3" height="6.9" fill="#ff5252"/>
<rect x="428" y="659.4" width="3" height="8" fill="#ff5252"/>
<rect x="432" y="659.4" width="3" height="8" fill="#ff5252"/>
<rect x="436" y="659.4" width="3" height="8" fill="#ff5252"/>
<rect x="440" y="659.4" width="3" height="3.8" fill="#ffcdd2"/>
<rect x="444" y="656.9" width="3" height="2.5" fill="#26a69a"/>
<rect x="448" y="650.1" width="3" height="9.3" fill="#26a69a"/>
<rect x="452" y="646.8" width="3" height="12.6" fill="#26a69a"/>
<rect x="456" y="644.4" width="3" height="15" fill="#26a69a"/>
<rect x="460" y="643" width="3" height="16.4" fill="#26a69a"/>
<rect x="464" y="639.4" width="3" height="20" fill="#26a69a"/>
<rect x="468" y="637.4" width="3" height="22" fill="#26a69a"/>
<rect x="472" y="637.4" width="3" height="22" fill="#26a69a"/>
<rect x="476" y="639.4" width="3" height="20" fill="#b2dfdb"/>
<rect x="480" y="646" width="3" height="13.4" fill="#b2dfdb"/>
<rect x="484" y="656.9" width="3" height="2.5" fill="#b2dfdb"/>
<rect x="488" y="659.4" width="3" height="2" fill="#ff5252"/>
<rect x="492" y="659.4" width="3" height="6.3" fill="#ff5252"/>
<rect x="496" y="659.4" width="3" height="8.3" fill="#ff5252"/>
<rect x="500" y="659.4" width="3" height="7" fill="#ffcdd2"/>
<rect x="504" y="659.4" width="3" height="10" fill="#ff5252"/>
<rect x="508" y="659.4" width="3" height="11.8" fill="#ff5252"/>
<rect x="512" y="659.4" width="3" height="14.4" fill="#ff5252"/>
<rect x="516" y="659.4" width="3" height="11.8" fill="#ffcdd2"/>
<rect x="520" y="659.4" width="3" height="5" fill="#ffcdd2"/>
<rect x="524" y="654.4" width="3" height="5" fill="#26a69a"/>
<rect x="528" y="648.8" width="3" height="10.6" fill="#26a69a"/>
<rect x="532" y="645" width="3" height="14.4" fill="#26a69a"/>
<rect x="536" y="639.4" width="3" height="20" fill="#26a69a"/>
<rect x="540" y="641" width="3" height="18.4" fill="#b2dfdb"/>
<rect x="544" y="641" width="3" height="18.4" fill="#b2dfdb"/>
<rect x="548" y="644.4" width="3" height="15" fill="#b2dfdb"/>
<rect x="552" y="646" width="3" height="13.4" fill="#b2dfdb"/>
<rect x="556" y="646" width="3" height="13.4" fill="#b2dfdb"/>
<rect x="560" y="646" width="3" height="13.4" fill="#26a69a"/>
<rect x="564" y="650.1" width="3" height="9.3" fill="#b2dfdb"/>
<rect x="568" y="654.9" width="3" height="4.5" fill="#b2dfdb"/>
<rect x="572" y="653.9" width="3" height="5.5" fill="#26a69a"/>
<rect x="576" y="650.1" width="3" height="9.3" fill="#26a69a"/>
<rect x="580" y="646.8" width="3" height="12.6" fill="#26a69a"/>
<rect x="584" y="644.4" width="3" height="15" fill="#26a69a"/>
<rect x="588" y="644.4" width="3" height="15" fill="#26a69a"/>
<rect x="592" y="648.1" width="3" height="11.3" fill="#b2dfdb"/>
<rect x="596" y="649.4" width="3" height="10" fill="#b2dfdb"/>
<rect x="600" y="650.6" width="3" height="8.8" fill="#b2dfdb"/>
<rect x="604" y="655.6" width="3" height="3.8" fill="#b2dfdb"/>
<rect x="608" y="659.4" width="3" height="3.8" fill="#ff5252"/>
<rect x="612" y="659.4" width="3" height="5" fill="#ff5252"/>
<rect x="616" y="659.4" width="3" height="9.3" fill="#ff5252"/>
<rect x="620" y="659.4" width="3" height="7.6" fill="#ffcdd2"/>
<rect x="624" y="659.4" width="3" height="8.8" fill="#ffcdd2"/>
<rect x="628" y="659.4" width="3" height="1.8" fill="#ffcdd2"/>
<rect x="632" y="659.4" width="3" height="6.3" fill="#ff5252"/>
<rect x="636" y="659.4" width="3" height="6.3" fill="#ff5252"/>
<rect x="640" y="659.4" width="3" height="3.8" fill="#ffcdd2"/>
<rect x="644" y="659.4" width="3" height="6.3" fill="#ff5252"/>
<rect x="648" y="659.4" width="3" height="8.8" fill="#ff5252"/>
<rect x="652" y="659.4" width="3" height="13.9" fill="#ff5252"/>
<rect x="656" y="659.4" width="3" height="17.6" fill="#ff5252"/>
<rect x="660" y="659.4" width="3" height="24.7" fill="#ff5252"/>
<rect x="665" y="659.4" width="3" height="21.4" fill="#ffcdd2"/>
<rect x="669" y="659.4" width="3" height="20" fill="#ffcdd2"/>
<rect x="673" y="659.4" width="3" height="22.7" fill="#ff5252"/>
<rect x="677" y="659.4" width="3" height="24.7" fill="#ff5252"/>
<rect x="681" y="659.4" width="3" height="26" fill="#ff5252"/>
<rect x="685" y="659.4" width="3" height="23.4" fill="#ffcdd2"/>
<rect x="689" y="659.4" width="3" height="15" fill="#ffcdd2"/>
<rect x="693" y="659.4" width="3" height="8.3" fill="#ffcdd2"/>
<rect x="697" y="659.4" width="3" height="3.8" fill="#ffcdd2"/>
<rect x="701" y="659.4" width="3" height="4.3" fill="#ff5252"/>
<rect x="705" y="659.4" width="3" height="1.3" fill="#ffcdd2"/>
<rect x="709" y="654.9" width="3" height="4.5" fill="#26a69a"/>
<rect x="713" y="653.9" width="3" height="5.5" fill="#26a69a"/>
<rect x="717" y="651.1" width="3" height="8.3" fill="#26a69a"/>
<rect x="721" y="646" width="3" height="13.4" fill="#26a69a"/>
<rect x="725" y="640" width="3" height="19.4" fill="#26a69a"/>
<rect x="729" y="634.2" width="3" height="25.2" fill="#26a69a"/>
<rect x="733" y="629.2" width="3" height="30.2" fill="#26a69a"/>
<rect x="737" y="625.4" width="3" height="34" fill="#26a69a"/>
<rect x="741" y="625.4" width="3" height="34" fill="#26a69a"/>
<rect x="745" y="623.4" width="3" height="36" fill="#26a69a"/>
<rect x="749" y="625.4" width="3" height="34" fill="#b2dfdb"/>
<rect x="753" y="630.4" width="3" height="29" fill="#b2dfdb"/>
<rect x="757" y="629.9" width="3" height="29.5" fill="#b2dfdb"/>
<rect x="761" y="630.4" width="3" height="29" fill="#b2dfdb"/>
<rect x="765" y="633.4" width="3" height="26" fill="#b2dfdb"/>
<rect x="769" y="637.4" width="3" height="22" fill="#b2dfdb"/>
<rect x="773" y="642.4" width="3" height="17" fill="#b2dfdb"/>
<rect x="777" y="648.1" width="3" height="11.3" fill="#b2dfdb"/>
<rect x="781" y="653.9" width="3" height="5.5" fill="#b2dfdb"/>
<rect x="785" y="655.6" width="3" height="3.8" fill="#b2dfdb"/>
<rect x="789" y="658.1" width="3" height="1.3" fill="#b2dfdb"/>
<rect x="793" y="659.4" width="3" height="1" fill="#ff5252"/>
<rect x="797" y="659.4" width="3" height="1" fill="#26a69a"/>
<rect x="801" y="655.1" width="3" height="4.3" fill="#26a69a"/>
<rect x="805" y="653.1" width="3" height="6.3" fill="#26a69a"/>
<rect x="809" y="653.1" width="3" height="6.3" fill="#26a69a"/>
<rect x="813" y="654.4" width="3" height="5" fill="#b2dfdb"/>
<rect x="817" y="655.6" width="3" height="3.8" fill="#b2dfdb"/>
<rect x="821" y="656.9" width="3" height="2.5" fill="#b2dfdb"/>
<rect x="825" y="659.4" width="3" height="1" fill="#ff5252"/>
<rect x="829" y="659.4" width="3" height="5.8" fill="#ff5252"/>
<rect x="833" y="659.4" width="3" height="7.6" fill="#ff5252"/>
<rect x="837" y="659.4" width="3" height="11.3" fill="#ff5252"/>
<rect x="841" y="659.4" width="3" height="11.3" fill="#ff5252"/>
<rect x="845" y="659.4" width="3" height="11.3" fill="#ff5252"/>
<rect x="849" y="659.4" width="3" height="17.6" fill="#ff5252"/>
<rect x="853" y="659.4" width="3" height="24.7" fill="#ff5252"/>
<rect x="857" y="659.4" width="3" height="24.7" fill="#ff5252"/>
<rect x="861" y="659.4" width="3" height="20.9" fill="#ffcdd2"/>
<rect x="865" y="659.4" width="3" height="16.4" fill="#ffcdd2"/>
<rect x="869" y="659.4" width="3" height="5" fill="#ffcdd2"/>
<rect x="873" y="656.9" width="3" height="2.5" fill="#26a69a"/>
<rect x="877" y="653.1" width="3" height="6.3" fill="#26a69a"/>
<rect x="881" y="651.8" width="3" height="7.6" fill="#26a69a"/>
<rect x="885" y="652.4" width="3" height="7" fill="#b2dfdb"/>
<rect x="889" y="655.6" width="3" height="3.8" fill="#b2dfdb"/>
<rect x="893" y="656.1" width="3" height="3.3" fill="#26a69a"/>
<rect x="897" y="659.4" width="3" height="1.8" fill="#ff5252"/>
<rect x="901" y="659.4" width="3" height="3.8" fill="#ff5252"/>
<rect x="905" y="659.4" width="3" height="6.3" fill="#ff5252"/>
<rect x="909" y="659.4" width="3" height="10.8" fill="#ff5252"/>
<rect x="913" y="659.4" width="3" height="11.3" fill="#ff5252"/>
<rect x="917" y="659.4" width="3" height="7.6" fill="#ffcdd2"/>
<rect x="921" y="659.4" width="3" height="3.8" fill="#ffcdd2"/>
<rect x="925" y="659.4" width="3" height="3.3" fill="#ffcdd2"/>
<rect x="929" y="659.4" width="3" height="5.8" fill="#ff5252"/>
<rect x="933" y="659.4" width="3" height="6.3" fill="#ff5252"/>
<rect x="938" y="659.4" width="3" height="7.6" fill="#ff5252"/>
<rect x="942" y="659.4" width="3" height="7" fill="#ffcdd2"/>
<rect x="946" y="659.4" width="3" height="8.8" fill="#ff5252"/>
<rect x="950" y="659.4" width="3" height="14.4" fill="#ff5252"/>
<rect x="954" y="659.4" width="3" height="14.4" fill="#ff5252"/>
<rect x="958" y="659.4" width="3" height="8.8" fill="#ffcdd2"/>
<rect x="962" y="659.4" width="3" height="7.6" fill="#ffcdd2"/>
<rect x="966" y="659.4" width="3" height="7.6" fill="#ffcdd2"/>
<rect x="970" y="659.4" width="3" height="10.8" fill="#ff5252"/>
<rect x="974" y="659.4" width="3" height="6.3" fill="#ffcdd2"/>
<rect x="978" y="659.4" width="3" height="3.8" fill="#ffcdd2"/>
<rect x="982" y="659.4" width="3" height="1" fill="#ffcdd2"/>
<rect x="986" y="654.4" width="3" height="5" fill="#26a69a"/>
<rect x="990" y="652.4" width="3" height="7" fill="#26a69a"/>
<rect x="994" y="653.1" width="3" height="6.3" fill="#b2dfdb"/>
<rect x="998" y="653.1" width="3" height="6.3" fill="#b2dfdb"/>
<rect x="1002" y="651.4" width="3" height="8" fill="#26a69a"/>
<rect x="1006" y="649.4" width="3" height="10" fill="#26a69a"/>
<rect x="1010" y="650.1" width="3" height="9.3" fill="#b2dfdb"/>
<rect x="1014" y="652.4" width="3" height="7" fill="#b2dfdb"/>
<rect x="1018" y="652.4" width="3" height="7" fill="#b2dfdb"/>
<rect x="1022" y="650.1" width="3" height="9.3" fill="#26a69a"/>
<rect x="1026" y="646" width="3" height="13.4" fill="#26a69a"/>
<rect x="1030" y="644.4" width="3" height="15" fill="#26a69a"/>
<rect x="1034" y="644.4" width="3" height="15" fill="#26a69a"/>
<rect x="1038" y="646" width="3" height="13.4" fill="#b2dfdb"/>
<rect x="1042" y="648.1" width="3" height="11.3" fill="#b2dfdb"/>
<rect x="1046" y="649.4" width="3" height="10" fill="#b2dfdb"/>
<rect x="1050" y="653.1" width="3" height="6.3" fill="#b2dfdb"/>
<rect x="1054" y="653.1" width="3" height="6.3" fill="#b2dfdb"/>
<rect x="1058" y="656.9" width="3" height="2.5" fill="#b2dfdb"/>
<rect x="1062" y="659.4" width="3" height="1.8" fill="#ff5252"/>
<rect x="1066" y="659.4" width="3" height="4.3" fill="#ff5252"/>
<rect x="1070" y="659.4" width="3" height="6.3" fill="#ff5252"/>
<rect x="1074" y="659.4" width="3" height="7.6" fill="#ff5252"/>
<rect x="1078" y="659.4" width="3" height="10" fill="#ff5252"/>
<rect x="1082" y="659.4" width="3" height="16.4" fill="#ff5252"/>
<rect x="1086" y="659.4" width="3" height="20.9" fill="#ff5252"/>
<rect x="1090" y="659.4" width="3" height="24.7" fill="#ff5252"/>
<rect x="1094" y="659.4" width="3" height="16.4" fill="#ffcdd2"/>
<rect x="1098" y="659.4" width="3" height="20" fill="#ffcdd2"/>
<rect x="1102" y="659.4" width="3" height="23.2" fill="#ff5252"/>
<rect x="1106" y="659.4" width="3" height="27.2" fill="#ff5252"/>
<rect x="1110" y="659.4" width="3" height="24" fill="#ffcdd2"/>
<rect x="1114" y="659.4" width="3" height="27.7" fill="#ff5252"/>
<rect x="1118" y="659.4" width="3" height="29" fill="#ff5252"/>
<rect x="1122" y="659.4" width="3" height="31.5" fill="#ff5252"/>
<rect x="1126" y="659.4" width="3" height="33.3" fill="#ff5252"/>
<rect x="1130" y="659.4" width="3" height="27.7" fill="#ffcdd2"/>
<rect x="1134" y="659.4" width="3" height="19.4" fill="#ffcdd2"/>
<rect x="1138" y="659.4" width="3" height="16.4" fill="#ffcdd2"/>
<rect x="1142" y="659.4" width="3" height="17" fill="#ff5252"/>
<rect x="1146" y="659.4" width="3" height="15" fill="#ffcdd2"/>
<rect x="1150" y="659.4" width="3" height="11.3" fill="#ffcdd2"/>
<rect x="1154" y="659.4" width="3" height="1" fill="#ffcdd2"/>
<rect x="1158" y="651.8" width="3" height="7.6" fill="#26a69a"/>
<rect x="1162" y="646" width="3" height="13.4" fill="#26a69a"/>
<rect x="1166" y="641" width="3" height="18.4" fill="#26a69a"/>
<rect x="1170" y="638.4" width="3" height="21" fill="#26a69a"/>
<rect x="1174" y="639.4" width="3" height="20" fill="#b2dfdb"/>
<rect x="1178" y="640.4" width="3" height="19" fill="#b2dfdb"/>
<rect x="1182" y="636" width="3" height="23.4" fill="#26a69a"/>
<rect x="1186" y="632.9" width="3" height="26.5" fill="#26a69a"/>
<rect x="1190" y="634.2" width="3" height="25.2" fill="#b2dfdb"/>
<rect x="1194" y="634.2" width="3" height="25.2" fill="#26a69a"/>
<rect x="1198" y="636" width="3" height="23.4" fill="#b2dfdb"/>
<rect x="1202" y="641" width="3" height="18.4" fill="#b2dfdb"/>
<rect x="1206" y="646" width="3" height="13.4" fill="#b2dfdb"/>
<rect x="1211" y="646" width="3" height="13.4" fill="#b2dfdb"/>
<rect x="1215" y="644.4" width="3" height="15" fill="#26a69a"/>
<rect x="1219" y="636.7" width="3" height="22.7" fill="#26a69a"/>
<rect x="1223" y="629.9" width="3" height="29.5" fill="#26a69a"/>
<rect x="1227" y="629.2" width="3" height="30.2" fill="#26a69a"/>
<rect x="1231" y="624.9" width="3" height="34.5" fill="#26a69a"/>
<rect x="1235" y="625.9" width="3" height="33.5" fill="#b2dfdb"/>
<rect x="1239" y="627.9" width="3" height="31.5" fill="#b2dfdb"/>
<rect x="1243" y="630.4" width="3" height="29" fill="#b2dfdb"/>
<rect x="1247" y="632.9" width="3" height="26.5" fill="#b2dfdb"/>
<rect x="1251" y="636" width="3" height="23.4" fill="#b2dfdb"/>
<rect x="1255" y="641" width="3" height="18.4" fill="#b2dfdb"/>
<rect x="1259" y="646.8" width="3" height="12.6" fill="#b2dfdb"/>
<rect x="1263" y="648.6" width="3" height="10.8" fill="#b2dfdb"/>
<rect x="1267" y="646.8" width="3" height="12.6" fill="#26a69a"/>
<rect x="1271" y="649.4" width="3" height="10" fill="#b2dfdb"/>
<rect x="1275" y="649.4" width="3" height="10" fill="#b2dfdb"/>
<rect x="1279" y="649.4" width="3" height="10" fill="#26a69a"/>
<rect x="1283" y="651.4" width="3" height="8" fill="#b2dfdb"/>
<rect x="1287" y="655.1" width="3" height="4.3" fill="#b2dfdb"/>
<rect x="1291" y="656.1" width="3" height="3.3" fill="#b2dfdb"/>
<rect x="1295" y="659.4" width="3" height="1" fill="#ff5252"/>
<rect x="1299" y="657.6" width="3" height="1.8" fill="#26a69a"/>
<rect x="1303" y="655.1" width="3" height="4.3" fill="#26a69a"/>
<rect x="1307" y="655.1" width="3" height="4.3" fill="#b2dfdb"/>
<path d="M0,655 C0.42,654.33 0,653.33 2.5,651 C5,648.67 9.92,643.75 15,641 C20.08,638.25 27.87,635.38 33,634.5 C38.13,633.62 40.7,634.12 45.8,635.7 C50.9,637.28 57.67,641.45 63.6,644 C69.53,646.55 75.5,648.17 81.4,651 C87.3,653.83 93.48,657.83 99,661 C104.52,664.17 108.53,667 114.5,670 C120.47,673 129.3,677.08 134.8,679 C140.3,680.92 142.83,679.67 147.5,681.5 C152.17,683.33 157.72,687.32 162.8,690 C167.88,692.68 172.07,695.77 178,697.6 C183.93,699.43 190.73,699.87 198.4,701 C206.07,702.13 216.4,704.23 224,704.4 C231.6,704.57 238.08,701.9 244,702 C249.92,702.1 254,703.5 259.5,705 C265,706.5 271.92,708.83 277,711 C282.08,713.17 286.17,715.5 290,718 C293.83,720.5 295.67,725.33 300,726 C304.33,726.67 311,723.27 316,722 C321,720.73 326,719.13 330,718.4 C334,717.67 336.67,717.57 340,717.6 C343.33,717.63 346.33,717.37 350,718.6 C353.67,719.83 355.33,722.6 362,725 C368.67,727.4 380.33,731.33 390,733 C399.67,734.67 411.67,735.83 420,735 C428.33,734.17 432.47,730.73 440,728 C447.53,725.27 458.48,723.18 465.2,718.6 C471.92,714.02 476.52,703.85 480.3,700.5 C484.08,697.15 484.53,697.78 487.9,698.5 C491.27,699.22 496.3,702.07 500.5,704.8 C504.7,707.53 509.52,712.7 513.1,714.9 C516.68,717.1 519.07,718.43 522,718 C524.93,717.57 526.72,716.18 530.7,712.3 C534.68,708.42 540.02,699.95 545.9,694.7 C551.78,689.45 560.98,683.75 566,680.8 C571.02,677.85 571.8,679.52 576,677 C580.2,674.48 586.57,668.93 591.2,665.7 C595.83,662.47 599.58,658.43 603.8,657.6 C608.02,656.77 611.87,659.13 616.5,660.7 C621.13,662.27 626.57,664.9 631.6,667 C636.63,669.1 642.08,670.15 646.7,673.3 C651.32,676.45 655.1,680.87 659.3,685.9 C663.5,690.93 667.9,698.05 671.9,703.5 C675.9,708.95 679.45,712.52 683.3,718.6 C687.15,724.68 689.72,736.43 695,740 C700.28,743.57 710.02,743.57 715,740 C719.98,736.43 720.73,727.2 724.9,718.6 C729.07,710 734.97,698.9 740,688.4 C745.03,677.9 750.48,664 755.1,655.6 C759.72,647.2 763.92,642.53 767.7,638 C771.48,633.47 773.58,630.42 777.8,628.4 C782.02,626.38 788.8,626.62 793,625.9 C797.2,625.18 799.67,624.92 803,624.1 C806.33,623.28 809.22,621.85 813,621 C816.78,620.15 821.48,618.35 825.7,619 C829.92,619.65 834.52,622.57 838.3,624.9 C842.08,627.23 845.03,629.35 848.4,633 C851.77,636.65 855.15,642.82 858.5,646.8 C861.85,650.78 865.15,655.22 868.5,656.9 C871.85,658.58 875.02,657.55 878.6,656.9 C882.18,656.25 885.57,653.42 890,653 C894.43,652.58 900.57,652.7 905.2,654.4 C909.83,656.1 913.6,661.1 917.8,663.2 C922,665.3 925.78,665.32 930.4,667 C935.02,668.68 940.03,670.15 945.5,673.3 C950.97,676.45 957.32,682.55 963.2,685.9 C969.08,689.25 974.92,693.2 980.8,693.4 C986.68,693.6 992.62,689.62 998.5,687.1 C1004.38,684.58 1010.65,681.87 1016.1,678.3 C1021.55,674.73 1026.57,669.48 1031.2,665.7 C1035.83,661.92 1039.27,657.7 1043.9,655.6 C1048.53,653.5 1053.97,652.88 1059,653.1 C1064.03,653.32 1069.07,654.38 1074.1,656.9 C1079.13,659.42 1084.58,663.37 1089.2,668.2 C1093.82,673.03 1096.97,677.5 1101.8,685.9 C1106.63,694.3 1113.5,709.58 1118.2,718.6 C1122.9,727.62 1119.7,736.43 1130,740 C1140.3,743.57 1169.57,743.57 1180,740 C1190.43,736.43 1188.82,724.68 1192.6,718.6 C1196.38,712.52 1198.92,707.9 1202.7,703.5 C1206.48,699.1 1211.1,697.67 1215.3,692.2 C1219.5,686.73 1223.7,678.9 1227.9,670.7 C1232.1,662.5 1235.88,650.97 1240.5,643 C1245.12,635.03 1250.57,627.93 1255.6,622.9 C1260.63,617.87 1266.08,615.75 1270.7,612.8 C1275.32,609.85 1279.1,606.88 1283.3,605.2 C1287.5,603.52 1291.7,603.53 1295.9,602.7 C1300.1,601.87 1306.4,600.62 1308.5,600.2" fill="none" stroke="#ffad00" stroke-width="1.4" stroke-linejoin="round"/>
<path d="M0,636 C0.42,636.5 0,640.17 2.5,639 C5,637.83 10.33,630.5 15,629 C19.67,627.5 25.37,627.83 30.5,630 C35.63,632.17 40.72,638.5 45.8,642 C50.88,645.5 56.8,649.33 61,651 C65.2,652.67 67.17,650.33 71,652 C74.83,653.67 79.33,658 84,661 C88.67,664 95.17,668.17 99,670 C102.83,671.83 103.17,670.08 107,672 C110.83,673.92 117.58,679.17 122,681.5 C126.42,683.83 129.5,685.92 133.5,686 C137.5,686.08 141.08,679.33 146,682 C150.92,684.67 158.5,698.27 163,702 C167.5,705.73 168.83,704.3 173,704.4 C177.17,704.5 182.92,702.83 188,702.6 C193.08,702.37 197.5,702.18 203.5,703 C209.5,703.82 218.48,707.83 224,707.5 C229.52,707.17 233.27,702.58 236.6,701 C239.93,699.42 240.18,696.37 244,698 C247.82,699.63 256.07,708.88 259.5,710.8 C262.93,712.72 261.68,708.47 264.6,709.5 C267.52,710.53 273.6,713.58 277,717 C280.4,720.42 280.33,727.83 285,730 C289.67,732.17 299.92,732.17 305,730 C310.08,727.83 312.5,720.17 315.5,717 C318.5,713.83 320.47,710.83 323,711 C325.53,711.17 327.3,717.1 330.7,718 C334.1,718.9 340.18,714.4 343.4,716.4 C346.62,718.4 340.57,727.73 350,730 C359.43,732.27 390.33,732 400,730 C409.67,728 404.67,718 408,718 C411.33,718 413.83,728 420,730 C426.17,732 439.57,731.9 445,730 C450.43,728.1 450.1,722.17 452.6,718.6 C455.1,715.03 457.48,712.8 460,708.6 C462.52,704.4 464.95,697.6 467.7,693.4 C470.45,689.2 474.18,684.47 476.5,683.4 C478.82,682.33 480.12,684.7 481.6,687 C483.08,689.3 482.67,693.2 485.4,697.2 C488.13,701.2 494.43,707.43 498,711 C501.57,714.57 503.97,716.1 506.8,718.6 C509.63,721.1 512.27,726.2 515,726 C517.73,725.8 519.53,724.07 523.2,717.4 C526.87,710.73 533.22,692.52 537,686 C540.78,679.48 543.17,680 545.9,678.3 C548.63,676.6 550.88,677.15 553.4,675.8 C555.92,674.45 558.27,670.2 561,670.2 C563.73,670.2 567.07,676.33 569.8,675.8 C572.53,675.27 574.25,671 577.4,667 C580.55,663 585.35,654.75 588.7,651.8 C592.05,648.85 595.4,649.72 597.5,649.3 C599.6,648.88 599.4,647.4 601.3,649.3 C603.2,651.2 606.37,657.33 608.9,660.7 C611.43,664.07 613.98,667.62 616.5,669.5 C619.02,671.38 621.7,672.13 624,672 C626.3,671.87 628.2,668.28 630.3,668.7 C632.4,669.12 633.87,672.68 636.6,674.5 C639.33,676.32 643.75,676.45 646.7,679.6 C649.65,682.75 651.78,687.95 654.3,693.4 C656.82,698.85 659.28,708.1 661.8,712.3 C664.32,716.5 666.37,713.98 669.4,718.6 C672.43,723.22 674.07,736.43 680,740 C685.93,743.57 698.78,743.57 705,740 C711.22,736.43 713.15,727.62 717.3,718.6 C721.45,709.58 726.12,696.4 729.9,685.9 C733.68,675.4 736.65,664.42 740,655.6 C743.35,646.78 746.67,639.1 750,633 C753.33,626.9 756.63,622.28 760,619 C763.37,615.72 767.23,613.7 770.2,613.3 C773.17,612.9 775.5,615.1 777.8,616.6 C780.1,618.1 781.07,620.73 784,622.3 C786.93,623.87 792.23,626.33 795.4,626 C798.57,625.67 800.07,622.08 803,620.3 C805.93,618.52 809.63,615.72 813,615.3 C816.37,614.88 819.83,615.52 823.2,617.8 C826.57,620.08 829.43,625 833.2,629 C836.97,633 842.43,635.68 845.8,641.8 C849.17,647.92 850.45,660.25 853.4,665.7 C856.35,671.15 860.98,673.45 863.5,674.5 C866.02,675.55 865.98,675.58 868.5,672 C871.02,668.42 875.45,657.2 878.6,653 C881.75,648.8 885.28,647.42 887.4,646.8 C889.52,646.18 890.02,648.88 891.3,649.3 C892.58,649.72 893.2,648.25 895.1,649.3 C897,650.35 900.18,652.65 902.7,655.6 C905.22,658.55 907.68,664.05 910.2,667 C912.72,669.95 915.07,673.18 917.8,673.3 C920.53,673.42 924.07,667.92 926.6,667.7 C929.13,667.48 930.68,670.23 933,672 C935.32,673.77 938.2,676.63 940.5,678.3 C942.8,679.97 944.28,679.27 946.8,682 C949.32,684.73 952.87,692.8 955.6,694.7 C958.33,696.6 961.1,693.18 963.2,693.4 C965.3,693.62 966.32,694.4 968.2,696 C970.08,697.6 971.55,704.27 974.5,703 C977.45,701.73 982.75,691.77 985.9,688.4 C989.05,685.03 991.1,683.87 993.4,682.8 C995.7,681.73 997.17,683.58 999.7,682 C1002.23,680.42 1005.65,674.97 1008.6,673.3 C1011.55,671.63 1014.47,673.68 1017.4,672 C1020.33,670.32 1023.05,667.1 1026.2,663.2 C1029.35,659.3 1032.93,651.33 1036.3,648.6 C1039.67,645.87 1043.03,646.8 1046.4,646.8 C1049.77,646.8 1053.57,647.13 1056.5,648.6 C1059.43,650.07 1061.48,653.37 1064,655.6 C1066.52,657.83 1069.08,660.32 1071.6,662 C1074.12,663.68 1076.58,661.72 1079.1,665.7 C1081.62,669.68 1084.38,679.8 1086.7,685.9 C1089.02,692 1090.9,698.95 1093,702.3 C1095.1,705.65 1097.2,703.28 1099.3,706 C1101.4,708.72 1102.98,712.93 1105.6,718.6 C1108.22,724.27 1104.27,736.43 1115,740 C1125.73,743.57 1159.38,743.57 1170,740 C1180.62,736.43 1175.37,725.93 1178.7,718.6 C1182.03,711.27 1186.43,701.87 1190,696 C1193.57,690.13 1197.15,685.17 1200.1,683.4 C1203.05,681.63 1205.17,686.67 1207.7,685.4 C1210.23,684.13 1212.78,681.2 1215.3,675.8 C1217.82,670.4 1219.87,660.98 1222.8,653 C1225.73,645.02 1229.53,634.6 1232.9,627.9 C1236.27,621.2 1239.63,616.67 1243,612.8 C1246.37,608.93 1250.17,605.63 1253.1,604.7 C1256.03,603.77 1258.08,607.62 1260.6,607.2 C1263.12,606.78 1264.83,604 1268.2,602.2 C1271.57,600.4 1277.02,596.73 1280.8,596.4 C1284.58,596.07 1288.17,599.15 1290.9,600.2 C1293.63,601.25 1295.1,603.13 1297.2,602.7 C1299.3,602.27 1301.62,598.65 1303.5,597.6 C1305.38,596.55 1307.67,596.6 1308.5,596.4" fill="none" stroke="#2962ff" stroke-width="1.4" stroke-linejoin="round"/>
</g>
<rect x="7" y="8" width="211" height="70" fill="#ffffff" fill-opacity="0.5"/>
<rect x="7" y="78" width="63" height="30" fill="#ffffff" fill-opacity="0.5"/>
<text x="13.19" y="29.7" font-size="19.33" fill="#131722" textLength="62.46" lengthAdjust="spacingAndGlyphs">Bitcoin</text>
<text x="83" y="29.7" font-size="19.33" fill="#131722" textLength="6.4" lengthAdjust="spacingAndGlyphs">/</text>
<text x="98.06" y="29.7" font-size="19.33" fill="#131722" textLength="36.35" lengthAdjust="spacingAndGlyphs">U.S.</text>
<text x="141.15" y="29.7" font-size="19.33" fill="#131722" textLength="52.48" lengthAdjust="spacingAndGlyphs">Dollar</text>
<circle cx="201.7" cy="23.5" r="1.6" fill="#b2b5be"/>
<text x="210.07" y="29.7" font-size="19.33" fill="#131722" textLength="8.26" lengthAdjust="spacingAndGlyphs">1</text>
<circle cx="226.9" cy="23.5" r="1.6" fill="#b2b5be"/>
<text x="234.78" y="29.7" font-size="19.33" fill="#131722" textLength="61.86" lengthAdjust="spacingAndGlyphs">OANDA</text>
<circle cx="327" cy="22.8" r="10.8" fill="#089981" fill-opacity="0.15"/>
<circle cx="327" cy="22.8" r="5" fill="#089981"/>
<text x="358.11" y="29.7" font-size="14.53" fill="#50535e" textLength="11.39" lengthAdjust="spacingAndGlyphs">O</text>
<text x="370.29" y="29.7" font-size="14.53" fill="#ef5350" textLength="57.5" lengthAdjust="spacingAndGlyphs">32647.6</text>
<text x="434.26" y="29.7" font-size="14.53" fill="#50535e" textLength="11.76" lengthAdjust="spacingAndGlyphs">H</text>
<text x="446.8" y="29.7" font-size="14.53" fill="#ef5350" textLength="57.2" lengthAdjust="spacingAndGlyphs">32668.2</text>
<text x="511.33" y="29.7" font-size="14.53" fill="#50535e" textLength="8.58" lengthAdjust="spacingAndGlyphs">L</text>
<text x="520.9" y="29.7" font-size="14.53" fill="#ef5350" textLength="56.48" lengthAdjust="spacingAndGlyphs">32601.7</text>
<text x="585.86" y="29.7" font-size="14.53" fill="#50535e" textLength="9.12" lengthAdjust="spacingAndGlyphs">C</text>
<text x="596.4" y="29.7" font-size="14.53" fill="#ef5350" textLength="56.99" lengthAdjust="spacingAndGlyphs">32614.3</text>
<text x="661.24" y="29.7" font-size="14.53" fill="#ef5350" textLength="106.72" lengthAdjust="spacingAndGlyphs">−33.3 (−0.10%)</text>
<rect x="12.6" y="44" width="75.6" height="28.3" rx="4" fill="#fff" stroke="#ef5350" stroke-width="1"/>
<text x="22.2" y="62.8" font-size="14.53" fill="#ef5350" textLength="56.91" lengthAdjust="spacingAndGlyphs">32601.0</text>
<text x="98.66" y="62.8" font-size="14.53" fill="#50535e" textLength="27.49" lengthAdjust="spacingAndGlyphs">36.0</text>
<rect x="136.8" y="44" width="75.6" height="28.3" rx="4" fill="#fff" stroke="#2196f3" stroke-width="1"/>
<text x="145.59" y="62.8" font-size="14.53" fill="#2196f3" textLength="57.63" lengthAdjust="spacingAndGlyphs">32637.0</text>
<text x="13.53" y="97.7" font-size="15.55" fill="#131722" textLength="21.67" lengthAdjust="spacingAndGlyphs">Vol</text>
<text x="44.91" y="97.7" font-size="15.55" fill="#ef5350" textLength="17.37" lengthAdjust="spacingAndGlyphs">68</text>
<text x="1.08" y="199.8" font-size="15.41" fill="#2196f3" textLength="71.52" lengthAdjust="spacingAndGlyphs">215691205</text>
<g filter="url(#sh)"><circle cx="1237" cy="339.4" r="35.4" fill="none" stroke="#62c900" stroke-width="11.8"/></g>
<text x="12.03" y="553" font-size="15.99" fill="#131722" textLength="42.06" lengthAdjust="spacingAndGlyphs">MACD</text>
<text x="57.76" y="553" font-size="15.99" fill="#50535e" textLength="18.05" lengthAdjust="spacingAndGlyphs">12</text>
<text x="80.09" y="553" font-size="15.99" fill="#50535e" textLength="17.81" lengthAdjust="spacingAndGlyphs">26</text>
<text x="102.33" y="553" font-size="15.99" fill="#50535e" textLength="36.98" lengthAdjust="spacingAndGlyphs">close</text>
<text x="142.8" y="553" font-size="15.99" fill="#50535e" textLength="10.72" lengthAdjust="spacingAndGlyphs">9</text>
<text x="162.97" y="553" font-size="15.99" fill="#b2dfdb" textLength="23.44" lengthAdjust="spacingAndGlyphs">8.5</text>
<text x="193.87" y="553" font-size="15.99" fill="#2962ff" textLength="40.44" lengthAdjust="spacingAndGlyphs">144.7</text>
<text x="241.27" y="553" font-size="15.99" fill="#ffad00" textLength="40.34" lengthAdjust="spacingAndGlyphs">136.2</text>
<circle cx="31" cy="690" r="20.3" fill="#fff" stroke="#e3e3e3" stroke-width="1.2"/>
<path d="M20,697.2 C17.8,697.2 17.6,693.6 18.2,691.6 C18.8,689.2 20.6,687.6 23.2,687.3 C23.6,683.6 26.3,681.8 29.2,681.8 C32.2,681.8 34.4,683.4 35.2,685.6 C36.2,685.3 37.6,685.3 38.8,685.6 C41.2,686.2 42.6,687.8 43,689.8 C45,690.6 45.6,692.2 45.4,694 C45.2,696 44,697.2 42.6,697.2 Z" fill="#3ba2ea"/>
<polyline points="17.2,695.8 27.9,687.6 34.8,694.2 42.8,686" fill="none" stroke="#fff" stroke-width="1.9" stroke-linejoin="round"/>
<circle cx="27.9" cy="687.3" r="1.9" fill="#fff"/><circle cx="34.8" cy="693.9" r="1.9" fill="#fff"/>
<rect x="1379" y="2.5" width="1" height="751.5" fill="#e0e3eb"/>
<defs><clipPath id="cpa"><rect x="1379" y="2.5" width="80" height="525.0"/></clipPath></defs>
<g clip-path="url(#cpa)">
<rect x="1380" y="30" width="5" height="1" fill="#b2b5be"/>
<text x="1389.74" y="36" font-size="15.12" fill="#131722" textLength="53.34" lengthAdjust="spacingAndGlyphs">34800.0</text>
<rect x="1380" y="79" width="5" height="1" fill="#b2b5be"/>
<text x="1389.74" y="85" font-size="15.12" fill="#131722" textLength="53.34" lengthAdjust="spacingAndGlyphs">34400.0</text>
<rect x="1380" y="129" width="5" height="1" fill="#b2b5be"/>
<text x="1389.74" y="135" font-size="15.12" fill="#131722" textLength="53.34" lengthAdjust="spacingAndGlyphs">34000.0</text>
<rect x="1380" y="178" width="5" height="1" fill="#b2b5be"/>
<text x="1389.74" y="184" font-size="15.12" fill="#131722" textLength="53.34" lengthAdjust="spacingAndGlyphs">33600.0</text>
<rect x="1380" y="227" width="5" height="1" fill="#b2b5be"/>
<text x="1389.74" y="233" font-size="15.12" fill="#131722" textLength="53.34" lengthAdjust="spacingAndGlyphs">33200.0</text>
<rect x="1380" y="276" width="5" height="1" fill="#b2b5be"/>
<text x="1389.74" y="282" font-size="15.12" fill="#131722" textLength="53.34" lengthAdjust="spacingAndGlyphs">32800.0</text>
<rect x="1380" y="325" width="5" height="1" fill="#b2b5be"/>
<text x="1389.74" y="331" font-size="15.12" fill="#131722" textLength="53.34" lengthAdjust="spacingAndGlyphs">32400.0</text>
<rect x="1380" y="374" width="5" height="1" fill="#b2b5be"/>
<text x="1389.74" y="380" font-size="15.12" fill="#131722" textLength="53.34" lengthAdjust="spacingAndGlyphs">32000.0</text>
<rect x="1380" y="423" width="5" height="1" fill="#b2b5be"/>
<text x="1389.74" y="429" font-size="15.12" fill="#131722" textLength="53.34" lengthAdjust="spacingAndGlyphs">31600.0</text>
<rect x="1380" y="473" width="5" height="1" fill="#b2b5be"/>
<text x="1389.74" y="479" font-size="15.12" fill="#131722" textLength="53.34" lengthAdjust="spacingAndGlyphs">31200.0</text>
<rect x="1380" y="522" width="5" height="1" fill="#b2b5be"/>
<text x="1389.74" y="528" font-size="15.12" fill="#131722" textLength="53.34" lengthAdjust="spacingAndGlyphs">30800.0</text>
</g>
<rect x="1397.6" y="10.6" width="38" height="23.4" rx="4" fill="#fff" stroke="#d1d4dc" stroke-width="1"/>
<text x="1403.43" y="27.7" font-size="15.41" fill="#131722" textLength="26.47" lengthAdjust="spacingAndGlyphs">USD</text>
<rect x="1379" y="289.4" width="74" height="20.2" fill="#ef5350"/>
<rect x="1379" y="299" width="5" height="1" fill="#fff"/>
<text x="1389.44" y="304.6" font-size="15.12" fill="#fff" textLength="53.21" lengthAdjust="spacingAndGlyphs">32614.3</text>
<rect x="1402.3" y="311" width="50.7" height="20" fill="#ef5350"/>
<text x="1406.93" y="326.2" font-size="15.12" fill="#fff" font-weight="bold" textLength="37.1" lengthAdjust="spacingAndGlyphs">00:46</text>
<rect x="1379" y="462" width="74" height="20.8" fill="#d32f2f"/>
<rect x="1379" y="472" width="5" height="1" fill="#fff"/>
<text x="1389.43" y="476.7" font-size="15.12" fill="#fff" textLength="53.81" lengthAdjust="spacingAndGlyphs">31208.8</text>
<rect x="1380" y="529.1" width="5" height="1" fill="#b2b5be"/>
<text x="1389.72" y="535.4" font-size="15.12" fill="#131722" textLength="38.18" lengthAdjust="spacingAndGlyphs">300.0</text>
<rect x="1380" y="572" width="5" height="1" fill="#b2b5be"/>
<text x="1389.53" y="578.3" font-size="15.12" fill="#131722" textLength="38.37" lengthAdjust="spacingAndGlyphs">200.0</text>
<rect x="1380" y="615.5" width="5" height="1" fill="#b2b5be"/>
<text x="1389.12" y="621.8" font-size="15.12" fill="#131722" textLength="38.79" lengthAdjust="spacingAndGlyphs">100.0</text>
<rect x="1380" y="658.9" width="5" height="1" fill="#b2b5be"/>
<text x="1389.66" y="665.2" font-size="15.12" fill="#131722" textLength="22.78" lengthAdjust="spacingAndGlyphs">0.0</text>
<rect x="1380" y="702.8" width="5" height="1" fill="#b2b5be"/>
<text x="1389.54" y="709.1" font-size="15.12" fill="#131722" textLength="47.36" lengthAdjust="spacingAndGlyphs">−100.0</text>
<rect x="0" y="718.8" width="1453" height="1" fill="#e0e3eb"/>
<rect x="0" y="753.8" width="1453" height="1" fill="#e0e3eb"/>
<rect x="7" y="719.5" width="1" height="4" fill="#b2b5be"/>
<text x="-11.39" y="743.6" font-size="15.26" fill="#131722" textLength="37.78" lengthAdjust="spacingAndGlyphs">08:30</text>
<rect x="127" y="719.5" width="1" height="4" fill="#b2b5be"/>
<text x="107.22" y="743.6" font-size="15.26" fill="#131722" font-weight="bold" textLength="40.58" lengthAdjust="spacingAndGlyphs">09:00</text>
<rect x="248" y="719.5" width="1" height="4" fill="#b2b5be"/>
<text x="229.61" y="743.6" font-size="15.26" fill="#131722" textLength="37.78" lengthAdjust="spacingAndGlyphs">09:30</text>
<rect x="368" y="719.5" width="1" height="4" fill="#b2b5be"/>
<text x="347.84" y="743.6" font-size="15.26" fill="#131722" font-weight="bold" textLength="40.97" lengthAdjust="spacingAndGlyphs">10:00</text>
<rect x="489" y="719.5" width="1" height="4" fill="#b2b5be"/>
<text x="470.03" y="743.6" font-size="15.26" fill="#131722" textLength="38.37" lengthAdjust="spacingAndGlyphs">10:30</text>
<rect x="609" y="719.5" width="1" height="4" fill="#b2b5be"/>
<text x="588.84" y="743.6" font-size="15.26" fill="#131722" font-weight="bold" textLength="40.97" lengthAdjust="spacingAndGlyphs">11:00</text>
<rect x="730" y="719.5" width="1" height="4" fill="#b2b5be"/>
<text x="711.03" y="743.6" font-size="15.26" fill="#131722" textLength="38.37" lengthAdjust="spacingAndGlyphs">11:30</text>
<rect x="850" y="719.5" width="1" height="4" fill="#b2b5be"/>
<text x="829.84" y="743.6" font-size="15.26" fill="#131722" font-weight="bold" textLength="40.97" lengthAdjust="spacingAndGlyphs">12:00</text>
<rect x="971" y="719.5" width="1" height="4" fill="#b2b5be"/>
<text x="952.03" y="743.6" font-size="15.26" fill="#131722" textLength="38.37" lengthAdjust="spacingAndGlyphs">12:30</text>
<rect x="1091" y="719.5" width="1" height="4" fill="#b2b5be"/>
<text x="1070.84" y="743.6" font-size="15.26" fill="#131722" font-weight="bold" textLength="40.97" lengthAdjust="spacingAndGlyphs">13:00</text>
<rect x="1212" y="719.5" width="1" height="4" fill="#b2b5be"/>
<text x="1193.03" y="743.6" font-size="15.26" fill="#131722" textLength="38.37" lengthAdjust="spacingAndGlyphs">13:30</text>
<rect x="1332" y="719.5" width="1" height="4" fill="#b2b5be"/>
<text x="1311.84" y="743.6" font-size="15.26" fill="#131722" font-weight="bold" textLength="40.97" lengthAdjust="spacingAndGlyphs">14:00</text>
<g transform="translate(1416.4,737.5)" fill="none" stroke="#131722" stroke-width="1.25" stroke-linecap="round"><circle r="5.9"/><line x1="6.2" y1="0" x2="9.1" y2="0"/><line x1="4.95" y1="4.95" x2="6.08" y2="6.08"/><line x1="0" y1="6.2" x2="0" y2="9.1"/><line x1="-4.95" y1="4.95" x2="-6.08" y2="6.08"/><line x1="-6.2" y1="0" x2="-9.1" y2="0"/><line x1="-4.95" y1="-4.95" x2="-6.08" y2="-6.08"/><line x1="-0" y1="-6.2" x2="-0" y2="-9.1"/><line x1="4.95" y1="-4.95" x2="6.08" y2="-6.08"/></g>
<text x="21.08" y="785.2" font-size="18.75" fill="#131722" textLength="22.15" lengthAdjust="spacingAndGlyphs">1D</text>
<text x="58.93" y="785.2" font-size="18.75" fill="#131722" textLength="21.48" lengthAdjust="spacingAndGlyphs">5D</text>
<text x="95.7" y="785.2" font-size="18.75" fill="#131722" textLength="23.7" lengthAdjust="spacingAndGlyphs">1M</text>
<text x="135.34" y="785.2" font-size="18.75" fill="#131722" textLength="24.08" lengthAdjust="spacingAndGlyphs">3M</text>
<text x="174.11" y="785.2" font-size="18.75" fill="#131722" textLength="24.33" lengthAdjust="spacingAndGlyphs">6M</text>
<text x="214.15" y="785.2" font-size="18.75" fill="#131722" textLength="31.6" lengthAdjust="spacingAndGlyphs">YTD</text>
<text x="261.42" y="785.2" font-size="18.75" fill="#131722" textLength="20.55" lengthAdjust="spacingAndGlyphs">1Y</text>
<text x="298.34" y="785.2" font-size="18.75" fill="#131722" textLength="20.01" lengthAdjust="spacingAndGlyphs">5Y</text>
<text x="335.96" y="785.2" font-size="18.75" fill="#131722" textLength="22.39" lengthAdjust="spacingAndGlyphs">All</text>
<rect x="377" y="765" width="1" height="27.8" fill="#e0e3eb"/>
<g fill="none" stroke="#131722" stroke-width="1.35" stroke-linecap="round" stroke-linejoin="round"><path d="M399.3,777.1 V773 Q399.3,770.7 401.6,770.7 H416.1 Q418.4,770.7 418.4,773 V784.5 Q418.4,786.8 416.1,786.8 H409.4"/><path d="M399.3,775.9 H418.4"/><path d="M404.5,769.4 V772.3 M413.4,769.4 V772.3"/><path d="M398.2,783.1 H406.6 M403.3,779 L407,783 L403.3,787.1"/></g>
<text x="1150.44" y="785.2" font-size="18.75" fill="#131722" textLength="69.28" lengthAdjust="spacingAndGlyphs">13:54:14</text>
<text x="1224.38" y="785.2" font-size="18.75" fill="#131722" textLength="63.23" lengthAdjust="spacingAndGlyphs">(UTC+1)</text>
<rect x="1307.5" y="765.3" width="1" height="27" fill="#e0e3eb"/>
<text x="1329.34" y="785.2" font-size="18.75" fill="#131722" textLength="16.52" lengthAdjust="spacingAndGlyphs">%</text>
<text x="1363.04" y="785.2" font-size="18.75" fill="#131722" textLength="24.86" lengthAdjust="spacingAndGlyphs">log</text>
<text x="1403.92" y="785.2" font-size="15.55" fill="#131722" textLength="35.96" lengthAdjust="spacingAndGlyphs">auto</text>
<rect x="0" y="0" width="1453" height="2" fill="#ffffff"/>
<rect x="0" y="2" width="1453" height="1" fill="#e0e3eb"/>
<rect x="127" y="0" width="1" height="2" fill="#e0e3eb"/>
<rect x="177" y="0" width="1" height="2" fill="#e0e3eb"/>
<rect x="226" y="0" width="1" height="2" fill="#e0e3eb"/>
<rect x="274" y="0" width="1" height="2" fill="#e0e3eb"/>
<rect x="348" y="0" width="1" height="2" fill="#e0e3eb"/>
<rect x="397" y="0" width="1" height="2" fill="#e0e3eb"/>
<rect x="446" y="0" width="1" height="2" fill="#e0e3eb"/>
<rect x="494" y="0" width="1" height="2" fill="#e0e3eb"/>
<rect x="543" y="0" width="1" height="2" fill="#e0e3eb"/>
<rect x="622" y="0" width="1" height="2" fill="#e0e3eb"/>
<rect x="910" y="0" width="1" height="2" fill="#e0e3eb"/>
<rect x="959" y="0" width="1" height="2" fill="#e0e3eb"/>
<rect x="1158" y="0" width="1" height="2" fill="#e0e3eb"/>
<rect x="1207" y="0" width="1" height="2" fill="#e0e3eb"/>
<rect x="1255" y="0" width="1" height="2" fill="#e0e3eb"/>
<rect x="1305.2" y="0" width="147.8" height="2" fill="#2196f3"/>
<rect x="1405" y="0" width="1" height="2" fill="#ffffff"/>
<rect x="0" y="0" width="2" height="806" fill="#e0e3eb"/>
<rect x="1453.2" y="0" width="5.6" height="806" fill="#e0e3eb"/>
<rect x="0" y="802.9" width="1454" height="4" fill="#e0e3eb"/>
<path d="M2,798.4 A4.5,4.5 0 0 0 6.5,802.9 H2 Z" fill="#e0e3eb"/>
<path d="M1453.2,798.4 A4.5,4.5 0 0 1 1448.7,802.9 H1453.2 Z" fill="#e0e3eb"/>
<rect x="1456.4" y="750.3" width="8.8" height="32.6" rx="4.4" fill="#fff" stroke="#d1d4dc" stroke-width="1"/>
<polyline points="1459.2,762.3 1461.9,766.6 1459.2,770.9" fill="none" stroke="#9598a1" stroke-width="1.1"/>
<rect x="1460" y="14.3" width="325" height="4.5" fill="#e0e3eb"/>
<text x="1478.96" y="55" font-size="18.6" fill="#131722" font-weight="bold" textLength="65" lengthAdjust="spacingAndGlyphs">BTCUSD</text>
<text x="1478.69" y="98.9" font-size="15.55" fill="#131722" textLength="47.95" lengthAdjust="spacingAndGlyphs">Bitcoin</text>
<text x="1532" y="98.9" font-size="15.55" fill="#131722" textLength="4.7" lengthAdjust="spacingAndGlyphs">/</text>
<text x="1542.18" y="98.9" font-size="15.55" fill="#131722" textLength="28.36" lengthAdjust="spacingAndGlyphs">U.S.</text>
<text x="1574.82" y="98.9" font-size="15.55" fill="#131722" textLength="40.63" lengthAdjust="spacingAndGlyphs">Dollar</text>
<g fill="none" stroke="#787b86" stroke-width="1.1" stroke-linecap="round"><path d="M1627.7,87.5 H1625 Q1623.7,87.5 1623.7,88.8 V97 Q1623.7,98.3 1625,98.3 H1633 Q1634.3,98.3 1634.3,97 V94.2"/><path d="M1630.2,87.5 H1634.3 V91.6"/><path d="M1628.6,93.3 L1634,87.8"/></g>
<circle cx="1646" cy="95" r="1.9" fill="#8f929b"/>
<text x="1655.28" y="98.9" font-size="15.55" fill="#131722" textLength="46.24" lengthAdjust="spacingAndGlyphs">OANDA</text>
<text x="1479.22" y="124.8" font-size="16.42" fill="#9598a1" textLength="45.22" lengthAdjust="spacingAndGlyphs">Crypto</text>
<text x="1481.32" y="182.5" font-size="38.23" fill="#131722" font-weight="bold" textLength="85.25" lengthAdjust="spacingAndGlyphs">3261</text>
<text x="1567.38" y="182.5" font-size="38.23" fill="#f44336" font-weight="bold" textLength="57.11" lengthAdjust="spacingAndGlyphs">4.3</text>
<text x="1629.9" y="182.5" font-size="14.39" fill="#131722" font-weight="bold" textLength="27.95" lengthAdjust="spacingAndGlyphs">USD</text>
<text x="1479.35" y="212.2" font-size="18.6" fill="#f44336" textLength="70.09" lengthAdjust="spacingAndGlyphs">−2297.6</text>
<text x="1555.25" y="212.2" font-size="18.6" fill="#f44336" textLength="75.9" lengthAdjust="spacingAndGlyphs">(−6.58%)</text>
<circle cx="1483.4" cy="229.4" r="3" fill="#089981"/>
<text x="1490.81" y="233.8" font-size="13.23" fill="#089981" textLength="87.98" lengthAdjust="spacingAndGlyphs">MARKET OPEN</text>
<rect x="1480.3" y="255.2" width="71.4" height="21.4" rx="10.7" fill="#e3effd"/>
<text x="1489.95" y="271.6" font-size="15.12" fill="#2962ff" textLength="52.62" lengthAdjust="spacingAndGlyphs">32601.0</text>
<rect x="1562.2" y="255.2" width="71.8" height="21.4" rx="10.7" fill="#fde8ea"/>
<text x="1572.04" y="271.6" font-size="15.12" fill="#f44336" textLength="53.24" lengthAdjust="spacingAndGlyphs">32637.0</text>
<text x="1479.7" y="308.9" font-size="14.39" fill="#131722" textLength="56.58" lengthAdjust="spacingAndGlyphs">31272.3</text>
<text x="1584.89" y="308.9" font-size="14.39" fill="#9598a1" textLength="83.34" lengthAdjust="spacingAndGlyphs">DAY'S RANGE</text>
<text x="1717.4" y="308.9" font-size="14.39" fill="#131722" textLength="57.3" lengthAdjust="spacingAndGlyphs">35684.6</text>
<rect x="1480.3" y="319.8" width="294.5" height="7.8" rx="3.9" fill="#f0f3fa"/>
<rect x="1570.8" y="319.8" width="155" height="7.8" fill="#f44336"/>
<path d="M1571.4,330.8 L1577.8,340 L1565,340 Z" fill="#50535e"/>
</svg>
</body></html>
